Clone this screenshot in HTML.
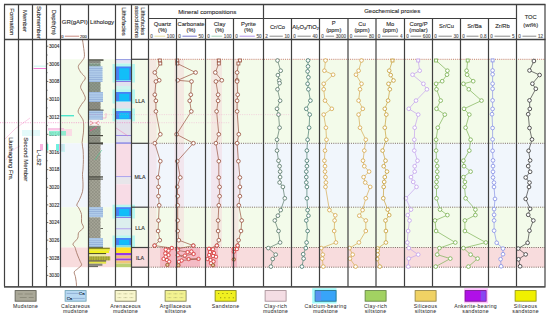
<!DOCTYPE html>
<html><head><meta charset="utf-8"><title>Geological log</title>
<style>html,body{margin:0;padding:0;background:#fff;width:550px;height:317px;overflow:hidden}svg{display:block}text{font-family:"Liberation Sans",sans-serif;stroke:currentColor;stroke-width:0.12px}</style>
</head><body>
<svg width="550" height="317" viewBox="0 0 550 317" font-family='"Liberation Sans", sans-serif'><defs>
<pattern id="pmud" width="3.2" height="3.2" patternUnits="userSpaceOnUse">
<path d="M0 0 L3.2 3.2 M3.2 0 L0 3.2" stroke="#76786c" stroke-width="0.38"/>
</pattern>
<pattern id="pcal" width="4" height="2.2" patternUnits="userSpaceOnUse">
<rect width="4" height="0.6" fill="#8eaad6"/>
</pattern>
<pattern id="psand" width="2.5" height="2" patternUnits="userSpaceOnUse">
<circle cx="1" cy="1" r="0.5" fill="#5a5a20"/>
</pattern>
</defs><rect width="550" height="317" fill="#fff"/><rect x="60.5" y="59.3" width="55.0" height="84.00000000000001" fill="#f3fbea" />
<rect x="60.5" y="143.3" width="55.0" height="63.89999999999998" fill="#f1f6fc" />
<rect x="60.5" y="207.2" width="55.0" height="40.30000000000001" fill="#f3fbea" />
<rect x="60.5" y="247.5" width="55.0" height="19.69999999999999" fill="#f8dcdd" />
<rect x="131.5" y="59.3" width="413.5" height="84.00000000000001" fill="#f3fbea" />
<rect x="131.5" y="143.3" width="413.5" height="63.89999999999998" fill="#f1f6fc" />
<rect x="131.5" y="207.2" width="413.5" height="40.30000000000001" fill="#f3fbea" />
<rect x="131.5" y="247.5" width="413.5" height="19.69999999999999" fill="#f8dcdd" />
<rect x="149.2" y="59.3" width="7.300000000000011" height="188.2" fill="#f6c4d0" opacity="0.33"/>
<rect x="174.5" y="59.3" width="9.5" height="188.2" fill="#f6c4d0" opacity="0.33"/>
<rect x="211" y="59.3" width="11" height="188.2" fill="#f6c4d0" opacity="0.33"/>
<rect x="231.5" y="59.3" width="7.0" height="188.2" fill="#f6c4d0" opacity="0.33"/>
<rect x="160" y="247.5" width="16" height="19.69999999999999" fill="#f0a0b0" opacity="0.55"/>
<rect x="176.5" y="247.5" width="23.5" height="19.69999999999999" fill="#f0a0b0" opacity="0.55"/>
<rect x="206" y="247.5" width="12" height="19.69999999999999" fill="#f0a0b0" opacity="0.55"/>
<rect x="231" y="247.5" width="6" height="19.69999999999999" fill="#f0a0b0" opacity="0.55"/>
<line x1="148.5" y1="59.3" x2="545" y2="59.3" stroke="#c87c70" stroke-width="1" stroke-dasharray="1 1.1"/>
<line x1="148.5" y1="143.3" x2="545" y2="143.3" stroke="#5a4538" stroke-width="0.8" stroke-dasharray="1 1.2"/>
<line x1="148.5" y1="207.2" x2="545" y2="207.2" stroke="#5a4538" stroke-width="0.8" stroke-dasharray="1 1.2"/>
<line x1="148.5" y1="247.5" x2="545" y2="247.5" stroke="#5a4538" stroke-width="0.8" stroke-dasharray="1 1.2"/>
<line x1="148.5" y1="267.2" x2="545" y2="267.2" stroke="#5a4538" stroke-width="0.8" stroke-dasharray="1 1.2"/>
<rect x="88.5" y="59.3" width="15.0" height="1.5" fill="#48483f" />
<rect x="88.5" y="60.8" width="12.0" height="2.700000000000003" fill="#8e928a" />
<rect x="88.5" y="60.8" width="12.0" height="2.700000000000003" fill="url(#pmud)" />
<rect x="88.5" y="63.5" width="12.0" height="3.0" fill="#84a492" />
<rect x="88.5" y="63.5" width="12.0" height="3.0" fill="url(#pmud)" />
<rect x="88.5" y="66.5" width="14.0" height="15.5" fill="#afcbe9" />
<rect x="88.5" y="66.5" width="14.0" height="15.5" fill="url(#pcal)" />
<rect x="88.5" y="82" width="12.0" height="10" fill="#8d9a8c" />
<rect x="88.5" y="82" width="12.0" height="10" fill="url(#pmud)" />
<rect x="88.5" y="92" width="14.5" height="10" fill="#afcbe9" />
<rect x="88.5" y="92" width="14.5" height="10" fill="url(#pcal)" />
<rect x="88.5" y="102" width="12.0" height="8" fill="#8f9084" />
<rect x="88.5" y="102" width="12.0" height="8" fill="url(#pmud)" />
<rect x="88.5" y="109.6" width="15.0" height="1.2000000000000028" fill="#48483f" />
<rect x="88.5" y="110.8" width="14.5" height="9.0" fill="#afcbe9" />
<rect x="88.5" y="110.8" width="14.5" height="9.0" fill="url(#pcal)" />
<rect x="88.5" y="119.8" width="11.5" height="6" fill="#fbf3f3" />
<path d="M90 121 L93.5 123 L90 125 M99 121 L95.5 123 L99 125" stroke="#d06060" stroke-width="0.6" fill="none"/>
<rect x="88.5" y="125.8" width="12.0" height="9.200000000000003" fill="#8c9888" />
<rect x="88.5" y="125.8" width="12.0" height="9.200000000000003" fill="url(#pmud)" />
<rect x="88.5" y="135" width="14.5" height="1.1999999999999886" fill="#48483f" />
<rect x="88.5" y="136.2" width="12.0" height="6.100000000000023" fill="#929488" />
<rect x="88.5" y="136.2" width="12.0" height="6.100000000000023" fill="url(#pmud)" />
<rect x="88.5" y="142.3" width="14.5" height="2.1999999999999886" fill="#48483f" />
<rect x="88.5" y="144.5" width="12.0" height="62.69999999999999" fill="#a6a698" />
<rect x="88.5" y="144.5" width="12.0" height="62.69999999999999" fill="url(#pmud)" />
<rect x="88.5" y="176.3" width="14.5" height="1.299999999999983" fill="#48483f" />
<rect x="88.5" y="178.6" width="14.5" height="1.0" fill="#48483f" />
<rect x="88.5" y="207.2" width="14.5" height="10.200000000000017" fill="#afcbe9" />
<rect x="88.5" y="207.2" width="14.5" height="10.200000000000017" fill="url(#pcal)" />
<rect x="88.5" y="217.4" width="12.0" height="20.599999999999994" fill="#a6a698" />
<rect x="88.5" y="217.4" width="12.0" height="20.599999999999994" fill="url(#pmud)" />
<rect x="100.5" y="228.2" width="2.5" height="0.8" fill="#48483f" />
<rect x="88.5" y="238" width="14.5" height="9.300000000000011" fill="#afcbe9" />
<rect x="88.5" y="238" width="14.5" height="9.300000000000011" fill="url(#pcal)" />
<rect x="88.5" y="246.9" width="14.5" height="0.9" fill="#3a4a3a" />
<rect x="88.5" y="247.7" width="21.3" height="1.3" fill="#8a8a24" />
<rect x="88.5" y="249.0" width="21.3" height="1.7" fill="#e6e634" />
<rect x="88.5" y="250.6" width="20.6" height="2.4" fill="#f2f21e" />
<rect x="88.5" y="253.0" width="17.6" height="1.3" fill="#55552a" />
<rect x="88.5" y="254.3" width="17.6" height="2.0" fill="#eeeea2" />
<rect x="88.5" y="256.3" width="21.7" height="4.1" fill="#b4b440" />
<rect x="88.5" y="256.3" width="21.7" height="4.1" fill="url(#psand)" />
<rect x="88.5" y="260.4" width="17.6" height="1.3" fill="#45452a" />
<rect x="88.5" y="261.7" width="17.6" height="2.0" fill="#e6e646" />
<rect x="88.5" y="263.7" width="13.9" height="2.1" fill="#86867a" />
<rect x="88.5" y="265.8" width="9.5" height="1.3" fill="#6a6a60" />
<rect x="115.5" y="59.3" width="16.0" height="1.0" fill="#6f78d8" />
<rect x="115.5" y="60.3" width="16.0" height="2.700000000000003" fill="#e6e4f4" />
<rect x="115.5" y="63" width="16.0" height="3.5" fill="#d4f4f0" />
<rect x="112.5" y="64.0" width="22.5" height="18.5" fill="#b6f8f0" />
<rect x="115.5" y="66.5" width="16.0" height="14.5" fill="#4a82f4" />
<rect x="119.1" y="68.3" width="10.2" height="11.5" fill="#12bef8" />
<rect x="115.5" y="80.2" width="16.0" height="1.3999999999999915" fill="#86f2f4" />
<rect x="115.5" y="81" width="16.0" height="1.0999999999999943" fill="#8878e0" />
<rect x="115.5" y="82.1" width="16.0" height="3.9000000000000057" fill="#e2e2ee" />
<rect x="115.5" y="86" width="16.0" height="6" fill="#cef4ee" />
<rect x="112.5" y="89.5" width="22.5" height="14" fill="#b6f8f0" />
<rect x="115.5" y="92" width="16.0" height="10" fill="#4a82f4" />
<rect x="119.1" y="93.8" width="10.2" height="7.0" fill="#12bef8" />
<rect x="115.5" y="101.2" width="16.0" height="1.3999999999999915" fill="#86f2f4" />
<rect x="115.5" y="102" width="16.0" height="8" fill="#e2e2ec" />
<rect x="115.5" y="110" width="16.0" height="1.0999999999999943" fill="#8c78e0" />
<rect x="112.5" y="108.5" width="22.5" height="12.799999999999997" fill="#b6f8f0" />
<rect x="115.5" y="111" width="16.0" height="8.799999999999997" fill="#4a82f4" />
<rect x="119.1" y="112.8" width="10.2" height="5.799999999999997" fill="#12bef8" />
<rect x="115.5" y="119.0" width="16.0" height="1.3999999999999915" fill="#86f2f4" />
<rect x="115.5" y="119.8" width="16.0" height="15.200000000000003" fill="#e2e2ec" />
<rect x="115.5" y="135" width="16.0" height="1.0999999999999943" fill="#9a8ae6" />
<rect x="115.5" y="136.1" width="16.0" height="6.200000000000017" fill="#e2e2ec" />
<rect x="115.5" y="142.3" width="16.0" height="1.5999999999999943" fill="#8a86e2" />
<rect x="115.5" y="143.9" width="16.0" height="32.400000000000006" fill="#f8dce6" />
<rect x="115.5" y="176.3" width="16.0" height="1.0" fill="#8f86e8" />
<rect x="115.5" y="177.3" width="16.0" height="6.899999999999977" fill="#e8e6ea" />
<rect x="115.5" y="184.2" width="16.0" height="23.0" fill="#f8dce6" />
<rect x="112.5" y="204.7" width="22.5" height="13.800000000000011" fill="#b6f8f0" />
<rect x="115.5" y="207.2" width="16.0" height="9.800000000000011" fill="#4a82f4" />
<rect x="119.1" y="209.0" width="10.2" height="6.800000000000011" fill="#12bef8" />
<rect x="115.5" y="216.2" width="16.0" height="1.4000000000000057" fill="#86f2f4" />
<rect x="115.5" y="217" width="16.0" height="1.0999999999999943" fill="#8c80e2" />
<rect x="115.5" y="218.1" width="16.0" height="10.300000000000011" fill="#dceeee" />
<rect x="115.5" y="228.4" width="16.0" height="1.0999999999999943" fill="#9a8ce6" />
<rect x="115.5" y="229.5" width="16.0" height="8.5" fill="#dceeee" />
<rect x="112.5" y="235.5" width="22.5" height="12" fill="#b6f8f0" />
<rect x="115.5" y="238" width="16.0" height="8" fill="#4a82f4" />
<rect x="119.1" y="239.8" width="10.2" height="5.0" fill="#12bef8" />
<rect x="115.5" y="245.2" width="16.0" height="1.4000000000000057" fill="#86f2f4" />
<rect x="115.5" y="246" width="16.0" height="1.5" fill="#7ce0ea" />
<rect x="115.5" y="247.5" width="16.0" height="5.5" fill="#ffe228" />
<rect x="115.5" y="253" width="16.0" height="2.5" fill="#9838e2" />
<rect x="115.5" y="255.5" width="16.0" height="3.0" fill="#f2b878" />
<rect x="115.5" y="258.5" width="16.0" height="2.1000000000000227" fill="#9838e2" />
<rect x="115.5" y="260.6" width="16.0" height="3.0" fill="#f0c878" />
<rect x="115.5" y="263.6" width="16.0" height="3.599999999999966" fill="#bad074" />
<line x1="131.5" y1="59.3" x2="148.5" y2="59.3" stroke="#404040" stroke-width="1.2" />
<line x1="131.5" y1="143.3" x2="148.5" y2="143.3" stroke="#404040" stroke-width="1.2" />
<line x1="131.5" y1="207.2" x2="148.5" y2="207.2" stroke="#404040" stroke-width="1.2" />
<line x1="131.5" y1="247.5" x2="148.5" y2="247.5" stroke="#404040" stroke-width="1.2" />
<line x1="131.5" y1="267.2" x2="148.5" y2="267.2" stroke="#404040" stroke-width="1.2" />
<text x="140" y="103.3" font-size="5.3" text-anchor="middle" fill="#2e2e2e" color="#2e2e2e" >LLA</text>
<text x="140" y="178.8" font-size="5.3" text-anchor="middle" fill="#2e2e2e" color="#2e2e2e" >MLA</text>
<text x="140" y="229.9" font-size="5.3" text-anchor="middle" fill="#2e2e2e" color="#2e2e2e" >LLA</text>
<text x="140" y="259.8" font-size="5.3" text-anchor="middle" fill="#2e2e2e" color="#2e2e2e" >ILA</text>
<path d="M82.50 40.00 C82.65 41.00 83.08 43.25 83.40 46.00 C83.72 48.75 84.72 53.88 84.40 56.50 C84.08 59.12 82.52 60.05 81.50 61.70 C80.48 63.35 78.45 64.67 78.30 66.40 C78.15 68.13 79.43 70.20 80.60 72.10 C81.77 74.00 84.98 76.07 85.30 77.80 C85.62 79.53 83.28 80.92 82.50 82.50 C81.72 84.08 80.45 85.55 80.60 87.30 C80.75 89.05 82.62 91.08 83.40 93.00 C84.18 94.92 85.62 96.88 85.30 98.80 C84.98 100.72 82.70 102.45 81.50 104.50 C80.30 106.55 78.25 109.20 78.10 111.10 C77.95 113.00 79.72 114.17 80.60 115.90 C81.48 117.63 82.93 118.67 83.40 121.50 C83.87 124.33 83.62 129.42 83.40 132.90 C83.18 136.38 82.15 139.55 82.10 142.40 C82.05 145.25 82.88 147.15 83.10 150.00 C83.32 152.85 83.42 156.33 83.40 159.50 C83.38 162.67 83.15 166.48 83.00 169.00 C82.85 171.52 82.50 172.08 82.50 174.60 C82.50 177.12 83.00 181.25 83.00 184.10 C83.00 186.95 83.07 189.17 82.50 191.70 C81.93 194.23 80.55 197.08 79.60 199.30 C78.65 201.52 76.95 203.58 76.80 205.00 C76.65 206.42 77.92 206.22 78.70 207.80 C79.48 209.38 81.03 212.12 81.50 214.50 C81.97 216.88 81.18 219.90 81.50 222.10 C81.82 224.30 83.87 225.97 83.40 227.70 C82.93 229.43 79.65 230.75 78.70 232.50 C77.75 234.25 78.65 236.30 77.70 238.20 C76.75 240.10 73.47 242.43 73.00 243.90 C72.53 245.37 74.43 245.98 74.90 247.00 C75.37 248.02 75.37 248.67 75.80 250.00 C76.23 251.33 76.77 253.10 77.50 255.00 C78.23 256.90 79.53 259.72 80.20 261.40 C80.87 263.08 81.95 263.85 81.50 265.10 C81.05 266.35 78.72 267.75 77.50 268.90 C76.28 270.05 74.55 270.73 74.20 272.00 C73.85 273.27 75.07 274.92 75.40 276.50 C75.73 278.08 76.02 279.92 76.20 281.50 C76.38 283.08 76.45 285.25 76.50 286.00" stroke="#a27462" stroke-width="0.85" fill="none"/>
<line x1="46.5" y1="46.2" x2="48.3" y2="46.2" stroke="#333" stroke-width="0.7" />
<text x="49" y="48.050000000000004" font-size="4.7" text-anchor="start" fill="#333" color="#333" >3004</text>
<line x1="46.5" y1="55.015" x2="47.6" y2="55.015" stroke="#333" stroke-width="0.7" />
<line x1="46.5" y1="63.83" x2="48.3" y2="63.83" stroke="#333" stroke-width="0.7" />
<text x="49" y="65.67999999999999" font-size="4.7" text-anchor="start" fill="#333" color="#333" >3006</text>
<line x1="46.5" y1="72.64500000000001" x2="47.6" y2="72.64500000000001" stroke="#333" stroke-width="0.7" />
<line x1="46.5" y1="81.46000000000001" x2="48.3" y2="81.46000000000001" stroke="#333" stroke-width="0.7" />
<text x="49" y="83.31" font-size="4.7" text-anchor="start" fill="#333" color="#333" >3008</text>
<line x1="46.5" y1="90.275" x2="47.6" y2="90.275" stroke="#333" stroke-width="0.7" />
<line x1="46.5" y1="99.09" x2="48.3" y2="99.09" stroke="#333" stroke-width="0.7" />
<text x="49" y="100.94" font-size="4.7" text-anchor="start" fill="#333" color="#333" >3010</text>
<line x1="46.5" y1="107.905" x2="47.6" y2="107.905" stroke="#333" stroke-width="0.7" />
<line x1="46.5" y1="116.72" x2="48.3" y2="116.72" stroke="#333" stroke-width="0.7" />
<text x="49" y="118.57" font-size="4.7" text-anchor="start" fill="#333" color="#333" >3012</text>
<line x1="46.5" y1="125.535" x2="47.6" y2="125.535" stroke="#333" stroke-width="0.7" />
<line x1="46.5" y1="134.35" x2="48.3" y2="134.35" stroke="#333" stroke-width="0.7" />
<text x="49" y="136.2" font-size="4.7" text-anchor="start" fill="#333" color="#333" >3014</text>
<line x1="46.5" y1="143.165" x2="47.6" y2="143.165" stroke="#333" stroke-width="0.7" />
<line x1="46.5" y1="151.98000000000002" x2="48.3" y2="151.98000000000002" stroke="#333" stroke-width="0.7" />
<text x="49" y="153.83" font-size="4.7" text-anchor="start" fill="#333" color="#333" >3016</text>
<line x1="46.5" y1="160.79500000000002" x2="47.6" y2="160.79500000000002" stroke="#333" stroke-width="0.7" />
<line x1="46.5" y1="169.61" x2="48.3" y2="169.61" stroke="#333" stroke-width="0.7" />
<text x="49" y="171.46" font-size="4.7" text-anchor="start" fill="#333" color="#333" >3018</text>
<line x1="46.5" y1="178.425" x2="47.6" y2="178.425" stroke="#333" stroke-width="0.7" />
<line x1="46.5" y1="187.24" x2="48.3" y2="187.24" stroke="#333" stroke-width="0.7" />
<text x="49" y="189.09" font-size="4.7" text-anchor="start" fill="#333" color="#333" >3020</text>
<line x1="46.5" y1="196.055" x2="47.6" y2="196.055" stroke="#333" stroke-width="0.7" />
<line x1="46.5" y1="204.87" x2="48.3" y2="204.87" stroke="#333" stroke-width="0.7" />
<text x="49" y="206.72" font-size="4.7" text-anchor="start" fill="#333" color="#333" >3022</text>
<line x1="46.5" y1="213.685" x2="47.6" y2="213.685" stroke="#333" stroke-width="0.7" />
<line x1="46.5" y1="222.5" x2="48.3" y2="222.5" stroke="#333" stroke-width="0.7" />
<text x="49" y="224.35" font-size="4.7" text-anchor="start" fill="#333" color="#333" >3024</text>
<line x1="46.5" y1="231.315" x2="47.6" y2="231.315" stroke="#333" stroke-width="0.7" />
<line x1="46.5" y1="240.13" x2="48.3" y2="240.13" stroke="#333" stroke-width="0.7" />
<text x="49" y="241.98" font-size="4.7" text-anchor="start" fill="#333" color="#333" >3026</text>
<line x1="46.5" y1="248.945" x2="47.6" y2="248.945" stroke="#333" stroke-width="0.7" />
<line x1="46.5" y1="257.76" x2="48.3" y2="257.76" stroke="#333" stroke-width="0.7" />
<text x="49" y="259.61" font-size="4.7" text-anchor="start" fill="#333" color="#333" >3028</text>
<line x1="46.5" y1="266.575" x2="47.6" y2="266.575" stroke="#333" stroke-width="0.7" />
<line x1="46.5" y1="275.39" x2="48.3" y2="275.39" stroke="#333" stroke-width="0.7" />
<text x="49" y="277.24" font-size="4.7" text-anchor="start" fill="#333" color="#333" >3030</text>
<path d="M159.8 60.5 L160.3 63.5 L154.8 72.5 L159.2 80.3 L155.9 81.5 L154.8 94.7 L155.9 100.8 L155.9 111.4 L160.3 134.3 L154.8 143.2 L160.3 161.2 L158.1 177.5 L158.5 186.9 L158.5 196.2 L159.2 205.3 L158.5 220.5 L158.1 231.0 L159.8 240.2 L154.6 245.6" stroke="#9a5440" stroke-width="0.7" fill="none"/>
<rect x="158.32" y="59.02" width="2.96" height="2.96" fill="#fff" stroke="#9a5440" stroke-width="0.85"/>
<rect x="158.82" y="62.02" width="2.96" height="2.96" fill="#fff" stroke="#9a5440" stroke-width="0.85"/>
<circle cx="154.80" cy="72.50" r="1.85" fill="#fff" stroke="#9a5440" stroke-width="0.85"/>
<circle cx="159.20" cy="80.30" r="1.85" fill="#fff" stroke="#9a5440" stroke-width="0.85"/>
<circle cx="155.90" cy="81.50" r="1.85" fill="#fff" stroke="#9a5440" stroke-width="0.85"/>
<circle cx="154.80" cy="94.70" r="1.85" fill="#fff" stroke="#9a5440" stroke-width="0.85"/>
<circle cx="155.90" cy="100.80" r="1.85" fill="#fff" stroke="#9a5440" stroke-width="0.85"/>
<circle cx="155.90" cy="111.40" r="1.85" fill="#fff" stroke="#9a5440" stroke-width="0.85"/>
<circle cx="160.30" cy="134.30" r="1.85" fill="#fff" stroke="#9a5440" stroke-width="0.85"/>
<circle cx="154.80" cy="143.20" r="1.85" fill="#fff" stroke="#9a5440" stroke-width="0.85"/>
<circle cx="160.30" cy="161.20" r="1.85" fill="#fff" stroke="#9a5440" stroke-width="0.85"/>
<circle cx="158.10" cy="177.50" r="1.85" fill="#fff" stroke="#9a5440" stroke-width="0.85"/>
<circle cx="158.50" cy="186.90" r="1.85" fill="#fff" stroke="#9a5440" stroke-width="0.85"/>
<circle cx="158.50" cy="196.20" r="1.85" fill="#fff" stroke="#9a5440" stroke-width="0.85"/>
<circle cx="159.20" cy="205.30" r="1.85" fill="#fff" stroke="#9a5440" stroke-width="0.85"/>
<circle cx="158.50" cy="220.50" r="1.85" fill="#fff" stroke="#9a5440" stroke-width="0.85"/>
<circle cx="158.10" cy="231.00" r="1.85" fill="#fff" stroke="#9a5440" stroke-width="0.85"/>
<circle cx="159.80" cy="240.20" r="1.85" fill="#fff" stroke="#9a5440" stroke-width="0.85"/>
<circle cx="154.60" cy="245.60" r="1.85" fill="#fff" stroke="#9a5440" stroke-width="0.85"/>
<path d="M154.6 245.6 L171.8 248.0 L165.8 249.6 L168.5 250.7 L165.3 253.4 L168.5 255.1 L165.8 256.7 L163.6 258.9 L166.9 260.0 L169.1 261.6 L167.4 264.9" stroke="#9a5440" stroke-width="0.65" fill="none"/>
<circle cx="171.80" cy="248.00" r="2.2" fill="#e05a5a" opacity="0.55"/>
<circle cx="165.80" cy="249.60" r="2.2" fill="#e05a5a" opacity="0.55"/>
<circle cx="168.50" cy="250.70" r="2.2" fill="#e05a5a" opacity="0.55"/>
<circle cx="165.30" cy="253.40" r="2.2" fill="#e05a5a" opacity="0.55"/>
<circle cx="168.50" cy="255.10" r="2.2" fill="#e05a5a" opacity="0.55"/>
<circle cx="165.80" cy="256.70" r="2.2" fill="#e05a5a" opacity="0.55"/>
<circle cx="163.60" cy="258.90" r="2.2" fill="#e05a5a" opacity="0.55"/>
<circle cx="166.90" cy="260.00" r="2.2" fill="#e05a5a" opacity="0.55"/>
<circle cx="169.10" cy="261.60" r="2.2" fill="#e05a5a" opacity="0.55"/>
<circle cx="167.40" cy="264.90" r="2.2" fill="#e05a5a" opacity="0.55"/>
<circle cx="154.60" cy="245.60" r="1.6" fill="#fff" stroke="#d83838" stroke-width="0.75"/>
<circle cx="171.80" cy="248.00" r="1.6" fill="#fff" stroke="#d83838" stroke-width="0.75"/>
<circle cx="165.80" cy="249.60" r="1.6" fill="#fff" stroke="#d83838" stroke-width="0.75"/>
<circle cx="168.50" cy="250.70" r="1.6" fill="#fff" stroke="#d83838" stroke-width="0.75"/>
<circle cx="165.30" cy="253.40" r="1.6" fill="#fff" stroke="#d83838" stroke-width="0.75"/>
<circle cx="168.50" cy="255.10" r="1.6" fill="#fff" stroke="#d83838" stroke-width="0.75"/>
<circle cx="165.80" cy="256.70" r="1.6" fill="#fff" stroke="#d83838" stroke-width="0.75"/>
<circle cx="163.60" cy="258.90" r="1.6" fill="#fff" stroke="#d83838" stroke-width="0.75"/>
<circle cx="166.90" cy="260.00" r="1.6" fill="#fff" stroke="#d83838" stroke-width="0.75"/>
<circle cx="169.10" cy="261.60" r="1.6" fill="#fff" stroke="#d83838" stroke-width="0.75"/>
<circle cx="167.40" cy="264.90" r="1.6" fill="#e9c9a0" stroke="#8a5a2a" stroke-width="0.75"/>
<path d="M177.3 60.5 L177.3 63.5 L195.6 72.5 L177.7 80.3 L191.5 81.5 L190.8 94.7 L189.7 100.8 L191.3 111.4 L176.6 134.3 L193.4 143.2 L177.3 161.2 L180.3 177.5 L177.3 186.9 L177.7 196.2 L177.7 205.3 L177.7 220.5 L177.7 231.0 L178.8 240.2 L193.3 245.6" stroke="#9a5440" stroke-width="0.7" fill="none"/>
<rect x="175.82" y="59.02" width="2.96" height="2.96" fill="#fff" stroke="#9a5440" stroke-width="0.85"/>
<rect x="175.82" y="62.02" width="2.96" height="2.96" fill="#fff" stroke="#9a5440" stroke-width="0.85"/>
<circle cx="195.60" cy="72.50" r="1.85" fill="#fff" stroke="#9a5440" stroke-width="0.85"/>
<circle cx="177.70" cy="80.30" r="1.85" fill="#fff" stroke="#9a5440" stroke-width="0.85"/>
<circle cx="191.50" cy="81.50" r="1.85" fill="#fff" stroke="#9a5440" stroke-width="0.85"/>
<circle cx="190.80" cy="94.70" r="1.85" fill="#fff" stroke="#9a5440" stroke-width="0.85"/>
<circle cx="189.70" cy="100.80" r="1.85" fill="#fff" stroke="#9a5440" stroke-width="0.85"/>
<circle cx="191.30" cy="111.40" r="1.85" fill="#fff" stroke="#9a5440" stroke-width="0.85"/>
<circle cx="176.60" cy="134.30" r="1.85" fill="#fff" stroke="#9a5440" stroke-width="0.85"/>
<circle cx="193.40" cy="143.20" r="1.85" fill="#fff" stroke="#9a5440" stroke-width="0.85"/>
<circle cx="177.30" cy="161.20" r="1.85" fill="#fff" stroke="#9a5440" stroke-width="0.85"/>
<circle cx="180.30" cy="177.50" r="1.85" fill="#fff" stroke="#9a5440" stroke-width="0.85"/>
<circle cx="177.30" cy="186.90" r="1.85" fill="#fff" stroke="#9a5440" stroke-width="0.85"/>
<circle cx="177.70" cy="196.20" r="1.85" fill="#fff" stroke="#9a5440" stroke-width="0.85"/>
<circle cx="177.70" cy="205.30" r="1.85" fill="#fff" stroke="#9a5440" stroke-width="0.85"/>
<circle cx="177.70" cy="220.50" r="1.85" fill="#fff" stroke="#9a5440" stroke-width="0.85"/>
<circle cx="177.70" cy="231.00" r="1.85" fill="#fff" stroke="#9a5440" stroke-width="0.85"/>
<circle cx="178.80" cy="240.20" r="1.85" fill="#fff" stroke="#9a5440" stroke-width="0.85"/>
<circle cx="193.30" cy="245.60" r="1.85" fill="#fff" stroke="#9a5440" stroke-width="0.85"/>
<path d="M193.3 245.6 L177.3 248.9 L177.8 250.4 L187.6 252.1 L191.4 251.5 L193.6 254.0 L184.9 255.6 L177.8 255.2 L188.7 259.1 L198.5 258.9 L181.6 260.5 L178.9 261.8 L178.4 265.2" stroke="#9a5440" stroke-width="0.65" fill="none"/>
<circle cx="177.30" cy="248.90" r="2.2" fill="#e05a5a" opacity="0.55"/>
<circle cx="177.80" cy="250.40" r="2.2" fill="#e05a5a" opacity="0.55"/>
<circle cx="187.60" cy="252.10" r="2.2" fill="#e05a5a" opacity="0.55"/>
<circle cx="191.40" cy="251.50" r="2.2" fill="#e05a5a" opacity="0.55"/>
<circle cx="193.60" cy="254.00" r="2.2" fill="#e05a5a" opacity="0.55"/>
<circle cx="184.90" cy="255.60" r="2.2" fill="#e05a5a" opacity="0.55"/>
<circle cx="177.80" cy="255.20" r="2.2" fill="#e05a5a" opacity="0.55"/>
<circle cx="188.70" cy="259.10" r="2.2" fill="#e05a5a" opacity="0.55"/>
<circle cx="198.50" cy="258.90" r="2.2" fill="#e05a5a" opacity="0.55"/>
<circle cx="181.60" cy="260.50" r="2.2" fill="#e05a5a" opacity="0.55"/>
<circle cx="178.90" cy="261.80" r="2.2" fill="#e05a5a" opacity="0.55"/>
<circle cx="178.40" cy="265.20" r="2.2" fill="#e05a5a" opacity="0.55"/>
<circle cx="193.30" cy="245.60" r="1.6" fill="#fff" stroke="#d83838" stroke-width="0.75"/>
<circle cx="177.30" cy="248.90" r="1.6" fill="#fff" stroke="#d83838" stroke-width="0.75"/>
<circle cx="177.80" cy="250.40" r="1.6" fill="#fff" stroke="#d83838" stroke-width="0.75"/>
<circle cx="187.60" cy="252.10" r="1.6" fill="#fff" stroke="#d83838" stroke-width="0.75"/>
<circle cx="191.40" cy="251.50" r="1.6" fill="#fff" stroke="#d83838" stroke-width="0.75"/>
<circle cx="193.60" cy="254.00" r="1.6" fill="#fff" stroke="#d83838" stroke-width="0.75"/>
<circle cx="184.90" cy="255.60" r="1.6" fill="#fff" stroke="#d83838" stroke-width="0.75"/>
<circle cx="177.80" cy="255.20" r="1.6" fill="#fff" stroke="#d83838" stroke-width="0.75"/>
<circle cx="188.70" cy="259.10" r="1.6" fill="#fff" stroke="#d83838" stroke-width="0.75"/>
<circle cx="198.50" cy="258.90" r="1.6" fill="#fff" stroke="#d83838" stroke-width="0.75"/>
<circle cx="181.60" cy="260.50" r="1.6" fill="#fff" stroke="#d83838" stroke-width="0.75"/>
<circle cx="178.90" cy="261.80" r="1.6" fill="#fff" stroke="#d83838" stroke-width="0.75"/>
<circle cx="178.40" cy="265.20" r="1.6" fill="#e9c9a0" stroke="#8a5a2a" stroke-width="0.75"/>
<path d="M218.8 60.5 L218.8 63.5 L215.3 72.5 L221.8 80.3 L215.9 81.5 L218.1 94.7 L218.1 100.8 L216.6 111.4 L218.8 134.3 L215.9 143.2 L218.8 161.2 L218.8 177.5 L219.6 186.9 L219.6 196.2 L218.8 205.3 L218.1 220.5 L218.1 231.0 L218.8 240.2 L216.9 245.6" stroke="#9a5440" stroke-width="0.7" fill="none"/>
<rect x="217.32" y="59.02" width="2.96" height="2.96" fill="#fff" stroke="#9a5440" stroke-width="0.85"/>
<rect x="217.32" y="62.02" width="2.96" height="2.96" fill="#fff" stroke="#9a5440" stroke-width="0.85"/>
<circle cx="215.30" cy="72.50" r="1.85" fill="#fff" stroke="#9a5440" stroke-width="0.85"/>
<circle cx="221.80" cy="80.30" r="1.85" fill="#fff" stroke="#9a5440" stroke-width="0.85"/>
<circle cx="215.90" cy="81.50" r="1.85" fill="#fff" stroke="#9a5440" stroke-width="0.85"/>
<circle cx="218.10" cy="94.70" r="1.85" fill="#fff" stroke="#9a5440" stroke-width="0.85"/>
<circle cx="218.10" cy="100.80" r="1.85" fill="#fff" stroke="#9a5440" stroke-width="0.85"/>
<circle cx="216.60" cy="111.40" r="1.85" fill="#fff" stroke="#9a5440" stroke-width="0.85"/>
<circle cx="218.80" cy="134.30" r="1.85" fill="#fff" stroke="#9a5440" stroke-width="0.85"/>
<circle cx="215.90" cy="143.20" r="1.85" fill="#fff" stroke="#9a5440" stroke-width="0.85"/>
<circle cx="218.80" cy="161.20" r="1.85" fill="#fff" stroke="#9a5440" stroke-width="0.85"/>
<circle cx="218.80" cy="177.50" r="1.85" fill="#fff" stroke="#9a5440" stroke-width="0.85"/>
<circle cx="219.60" cy="186.90" r="1.85" fill="#fff" stroke="#9a5440" stroke-width="0.85"/>
<circle cx="219.60" cy="196.20" r="1.85" fill="#fff" stroke="#9a5440" stroke-width="0.85"/>
<circle cx="218.80" cy="205.30" r="1.85" fill="#fff" stroke="#9a5440" stroke-width="0.85"/>
<circle cx="218.10" cy="220.50" r="1.85" fill="#fff" stroke="#9a5440" stroke-width="0.85"/>
<circle cx="218.10" cy="231.00" r="1.85" fill="#fff" stroke="#9a5440" stroke-width="0.85"/>
<circle cx="218.80" cy="240.20" r="1.85" fill="#fff" stroke="#9a5440" stroke-width="0.85"/>
<circle cx="216.90" cy="245.60" r="1.85" fill="#fff" stroke="#9a5440" stroke-width="0.85"/>
<path d="M216.9 245.6 L209.0 248.8 L213.0 249.2 L210.0 252.0 L214.0 253.0 L209.2 255.0 L213.0 256.0 L216.0 256.8 L207.5 259.0 L210.5 260.0 L213.5 261.5 L211.0 263.2 L213.0 265.2" stroke="#9a5440" stroke-width="0.65" fill="none"/>
<circle cx="209.00" cy="248.80" r="2.2" fill="#e05a5a" opacity="0.55"/>
<circle cx="213.00" cy="249.20" r="2.2" fill="#e05a5a" opacity="0.55"/>
<circle cx="210.00" cy="252.00" r="2.2" fill="#e05a5a" opacity="0.55"/>
<circle cx="214.00" cy="253.00" r="2.2" fill="#e05a5a" opacity="0.55"/>
<circle cx="209.20" cy="255.00" r="2.2" fill="#e05a5a" opacity="0.55"/>
<circle cx="213.00" cy="256.00" r="2.2" fill="#e05a5a" opacity="0.55"/>
<circle cx="216.00" cy="256.80" r="2.2" fill="#e05a5a" opacity="0.55"/>
<circle cx="207.50" cy="259.00" r="2.2" fill="#e05a5a" opacity="0.55"/>
<circle cx="210.50" cy="260.00" r="2.2" fill="#e05a5a" opacity="0.55"/>
<circle cx="213.50" cy="261.50" r="2.2" fill="#e05a5a" opacity="0.55"/>
<circle cx="211.00" cy="263.20" r="2.2" fill="#e05a5a" opacity="0.55"/>
<circle cx="213.00" cy="265.20" r="2.2" fill="#e05a5a" opacity="0.55"/>
<circle cx="216.90" cy="245.60" r="1.6" fill="#fff" stroke="#d83838" stroke-width="0.75"/>
<circle cx="209.00" cy="248.80" r="1.6" fill="#fff" stroke="#d83838" stroke-width="0.75"/>
<circle cx="213.00" cy="249.20" r="1.6" fill="#fff" stroke="#d83838" stroke-width="0.75"/>
<circle cx="210.00" cy="252.00" r="1.6" fill="#fff" stroke="#d83838" stroke-width="0.75"/>
<circle cx="214.00" cy="253.00" r="1.6" fill="#fff" stroke="#d83838" stroke-width="0.75"/>
<circle cx="209.20" cy="255.00" r="1.6" fill="#fff" stroke="#d83838" stroke-width="0.75"/>
<circle cx="213.00" cy="256.00" r="1.6" fill="#fff" stroke="#d83838" stroke-width="0.75"/>
<circle cx="216.00" cy="256.80" r="1.6" fill="#fff" stroke="#d83838" stroke-width="0.75"/>
<circle cx="207.50" cy="259.00" r="1.6" fill="#fff" stroke="#d83838" stroke-width="0.75"/>
<circle cx="210.50" cy="260.00" r="1.6" fill="#fff" stroke="#d83838" stroke-width="0.75"/>
<circle cx="213.50" cy="261.50" r="1.6" fill="#fff" stroke="#d83838" stroke-width="0.75"/>
<circle cx="211.00" cy="263.20" r="1.6" fill="#fff" stroke="#d83838" stroke-width="0.75"/>
<circle cx="213.00" cy="265.20" r="1.6" fill="#e9c9a0" stroke="#8a5a2a" stroke-width="0.75"/>
<path d="M239.9 60.5 L238.4 63.5 L237.1 72.5 L237.1 80.3 L237.1 81.5 L237.7 94.7 L237.1 100.8 L237.1 111.4 L238.8 134.3 L237.1 143.2 L238.4 161.2 L239.9 177.5 L239.9 186.9 L239.9 196.2 L238.8 205.3 L241.7 220.5 L241.0 231.0 L238.6 240.2 L237.6 245.6" stroke="#9a5440" stroke-width="0.7" fill="none"/>
<rect x="238.42" y="59.02" width="2.96" height="2.96" fill="#fff" stroke="#9a5440" stroke-width="0.85"/>
<rect x="236.92" y="62.02" width="2.96" height="2.96" fill="#fff" stroke="#9a5440" stroke-width="0.85"/>
<circle cx="237.10" cy="72.50" r="1.85" fill="#fff" stroke="#9a5440" stroke-width="0.85"/>
<circle cx="237.10" cy="80.30" r="1.85" fill="#fff" stroke="#9a5440" stroke-width="0.85"/>
<circle cx="237.10" cy="81.50" r="1.85" fill="#fff" stroke="#9a5440" stroke-width="0.85"/>
<circle cx="237.70" cy="94.70" r="1.85" fill="#fff" stroke="#9a5440" stroke-width="0.85"/>
<circle cx="237.10" cy="100.80" r="1.85" fill="#fff" stroke="#9a5440" stroke-width="0.85"/>
<circle cx="237.10" cy="111.40" r="1.85" fill="#fff" stroke="#9a5440" stroke-width="0.85"/>
<circle cx="238.80" cy="134.30" r="1.85" fill="#fff" stroke="#9a5440" stroke-width="0.85"/>
<circle cx="237.10" cy="143.20" r="1.85" fill="#fff" stroke="#9a5440" stroke-width="0.85"/>
<circle cx="238.40" cy="161.20" r="1.85" fill="#fff" stroke="#9a5440" stroke-width="0.85"/>
<circle cx="239.90" cy="177.50" r="1.85" fill="#fff" stroke="#9a5440" stroke-width="0.85"/>
<circle cx="239.90" cy="186.90" r="1.85" fill="#fff" stroke="#9a5440" stroke-width="0.85"/>
<circle cx="239.90" cy="196.20" r="1.85" fill="#fff" stroke="#9a5440" stroke-width="0.85"/>
<circle cx="238.80" cy="205.30" r="1.85" fill="#fff" stroke="#9a5440" stroke-width="0.85"/>
<circle cx="241.70" cy="220.50" r="1.85" fill="#fff" stroke="#9a5440" stroke-width="0.85"/>
<circle cx="241.00" cy="231.00" r="1.85" fill="#fff" stroke="#9a5440" stroke-width="0.85"/>
<circle cx="238.60" cy="240.20" r="1.85" fill="#fff" stroke="#9a5440" stroke-width="0.85"/>
<circle cx="237.60" cy="245.60" r="1.85" fill="#fff" stroke="#9a5440" stroke-width="0.85"/>
<path d="M237.6 245.6 L233.8 248.9 L236.9 249.1 L233.8 251.8 L233.8 259.4" stroke="#9a5440" stroke-width="0.65" fill="none"/>
<circle cx="233.80" cy="248.90" r="2.2" fill="#e05a5a" opacity="0.55"/>
<circle cx="236.90" cy="249.10" r="2.2" fill="#e05a5a" opacity="0.55"/>
<circle cx="233.80" cy="251.80" r="2.2" fill="#e05a5a" opacity="0.55"/>
<circle cx="233.80" cy="259.40" r="2.2" fill="#e05a5a" opacity="0.55"/>
<circle cx="237.60" cy="245.60" r="1.6" fill="#fff" stroke="#d83838" stroke-width="0.75"/>
<circle cx="233.80" cy="248.90" r="1.6" fill="#fff" stroke="#d83838" stroke-width="0.75"/>
<circle cx="236.90" cy="249.10" r="1.6" fill="#fff" stroke="#d83838" stroke-width="0.75"/>
<circle cx="233.80" cy="251.80" r="1.6" fill="#fff" stroke="#d83838" stroke-width="0.75"/>
<circle cx="233.80" cy="259.40" r="1.6" fill="#e9c9a0" stroke="#8a5a2a" stroke-width="0.75"/>
<path d="M188.7 259.1 L198.5 258.9" stroke="#a8604e" stroke-width="0.55"/>
<path d="M277.5 60.5 L280.7 70.7 L277.9 75.1 L279.2 80.5 L279.6 83.2 L277.5 89.3 L280.1 100.7 L277.0 108.8 L278.5 114.6 L279.6 127.7 L277.0 139.7 L277.0 150.6 L278.5 160.7 L279.6 166.2 L280.1 171.6 L280.1 177.1 L279.6 182.5 L282.9 186.9 L284.8 198.3 L280.7 210.1 L277.9 215.7 L274.8 220.5 L278.5 231.0 L280.1 242.5 L268.3 248.1 L275.7 254.6 L272.7 259.0 L270.9 266.6" stroke="#5a7a6a" stroke-width="0.7" fill="none"/>
<circle cx="277.50" cy="60.50" r="1.85" fill="#fff" stroke="#5a7a6a" stroke-width="0.85"/>
<circle cx="280.70" cy="70.70" r="1.85" fill="#fff" stroke="#5a7a6a" stroke-width="0.85"/>
<circle cx="277.90" cy="75.10" r="1.85" fill="#fff" stroke="#5a7a6a" stroke-width="0.85"/>
<circle cx="279.20" cy="80.50" r="1.85" fill="#fff" stroke="#5a7a6a" stroke-width="0.85"/>
<circle cx="279.60" cy="83.20" r="1.85" fill="#fff" stroke="#5a7a6a" stroke-width="0.85"/>
<circle cx="277.50" cy="89.30" r="1.85" fill="#fff" stroke="#5a7a6a" stroke-width="0.85"/>
<circle cx="280.10" cy="100.70" r="1.85" fill="#fff" stroke="#5a7a6a" stroke-width="0.85"/>
<circle cx="277.00" cy="108.80" r="1.85" fill="#fff" stroke="#5a7a6a" stroke-width="0.85"/>
<circle cx="278.50" cy="114.60" r="1.85" fill="#fff" stroke="#5a7a6a" stroke-width="0.85"/>
<circle cx="279.60" cy="127.70" r="1.85" fill="#fff" stroke="#5a7a6a" stroke-width="0.85"/>
<circle cx="277.00" cy="139.70" r="1.85" fill="#fff" stroke="#5a7a6a" stroke-width="0.85"/>
<circle cx="277.00" cy="150.60" r="1.85" fill="#fff" stroke="#5a7a6a" stroke-width="0.85"/>
<circle cx="278.50" cy="160.70" r="1.85" fill="#fff" stroke="#5a7a6a" stroke-width="0.85"/>
<circle cx="279.60" cy="166.20" r="1.85" fill="#fff" stroke="#5a7a6a" stroke-width="0.85"/>
<circle cx="280.10" cy="171.60" r="1.85" fill="#fff" stroke="#5a7a6a" stroke-width="0.85"/>
<circle cx="280.10" cy="177.10" r="1.85" fill="#fff" stroke="#5a7a6a" stroke-width="0.85"/>
<circle cx="279.60" cy="182.50" r="1.85" fill="#fff" stroke="#5a7a6a" stroke-width="0.85"/>
<circle cx="282.90" cy="186.90" r="1.85" fill="#fff" stroke="#5a7a6a" stroke-width="0.85"/>
<circle cx="284.80" cy="198.30" r="1.85" fill="#fff" stroke="#5a7a6a" stroke-width="0.85"/>
<circle cx="280.70" cy="210.10" r="1.85" fill="#fff" stroke="#5a7a6a" stroke-width="0.85"/>
<circle cx="277.90" cy="215.70" r="1.85" fill="#fff" stroke="#5a7a6a" stroke-width="0.85"/>
<circle cx="274.80" cy="220.50" r="1.85" fill="#fff" stroke="#5a7a6a" stroke-width="0.85"/>
<circle cx="278.50" cy="231.00" r="1.85" fill="#fff" stroke="#5a7a6a" stroke-width="0.85"/>
<circle cx="280.10" cy="242.50" r="1.85" fill="#fff" stroke="#5a7a6a" stroke-width="0.85"/>
<circle cx="268.30" cy="248.10" r="1.85" fill="#fff" stroke="#5a7a6a" stroke-width="0.85"/>
<circle cx="275.70" cy="254.60" r="1.85" fill="#fff" stroke="#5a7a6a" stroke-width="0.85"/>
<circle cx="272.70" cy="259.00" r="1.85" fill="#fff" stroke="#5a7a6a" stroke-width="0.85"/>
<circle cx="270.90" cy="266.60" r="1.85" fill="#fff" stroke="#5a7a6a" stroke-width="0.85"/>
<path d="M308.0 60.5 L308.0 66.4 L307.6 71.4 L308.4 77.3 L307.6 83.8 L308.4 89.3 L310.4 100.6 L306.3 108.8 L309.7 114.6 L309.1 127.7 L307.6 139.7 L306.9 150.6 L306.9 160.7 L306.9 166.2 L306.3 171.6 L306.3 177.1 L306.3 182.5 L306.9 186.9 L306.9 198.3 L307.6 210.1 L308.4 215.7 L306.3 220.5 L307.6 231.0 L306.6 242.5 L305.8 248.1 L303.2 254.2 L303.6 258.6 L301.9 266.6" stroke="#4a7c70" stroke-width="0.7" fill="none"/>
<circle cx="308.00" cy="60.50" r="1.85" fill="#fff" stroke="#4a7c70" stroke-width="0.85"/>
<circle cx="308.00" cy="66.40" r="1.85" fill="#fff" stroke="#4a7c70" stroke-width="0.85"/>
<circle cx="307.60" cy="71.40" r="1.85" fill="#fff" stroke="#4a7c70" stroke-width="0.85"/>
<circle cx="308.40" cy="77.30" r="1.85" fill="#fff" stroke="#4a7c70" stroke-width="0.85"/>
<circle cx="307.60" cy="83.80" r="1.85" fill="#fff" stroke="#4a7c70" stroke-width="0.85"/>
<circle cx="308.40" cy="89.30" r="1.85" fill="#fff" stroke="#4a7c70" stroke-width="0.85"/>
<circle cx="310.40" cy="100.60" r="1.85" fill="#fff" stroke="#4a7c70" stroke-width="0.85"/>
<circle cx="306.30" cy="108.80" r="1.85" fill="#fff" stroke="#4a7c70" stroke-width="0.85"/>
<circle cx="309.70" cy="114.60" r="1.85" fill="#fff" stroke="#4a7c70" stroke-width="0.85"/>
<circle cx="309.10" cy="127.70" r="1.85" fill="#fff" stroke="#4a7c70" stroke-width="0.85"/>
<circle cx="307.60" cy="139.70" r="1.85" fill="#fff" stroke="#4a7c70" stroke-width="0.85"/>
<circle cx="306.90" cy="150.60" r="1.85" fill="#fff" stroke="#4a7c70" stroke-width="0.85"/>
<circle cx="306.90" cy="160.70" r="1.85" fill="#fff" stroke="#4a7c70" stroke-width="0.85"/>
<circle cx="306.90" cy="166.20" r="1.85" fill="#fff" stroke="#4a7c70" stroke-width="0.85"/>
<circle cx="306.30" cy="171.60" r="1.85" fill="#fff" stroke="#4a7c70" stroke-width="0.85"/>
<circle cx="306.30" cy="177.10" r="1.85" fill="#fff" stroke="#4a7c70" stroke-width="0.85"/>
<circle cx="306.30" cy="182.50" r="1.85" fill="#fff" stroke="#4a7c70" stroke-width="0.85"/>
<circle cx="306.90" cy="186.90" r="1.85" fill="#fff" stroke="#4a7c70" stroke-width="0.85"/>
<circle cx="306.90" cy="198.30" r="1.85" fill="#fff" stroke="#4a7c70" stroke-width="0.85"/>
<circle cx="307.60" cy="210.10" r="1.85" fill="#fff" stroke="#4a7c70" stroke-width="0.85"/>
<circle cx="308.40" cy="215.70" r="1.85" fill="#fff" stroke="#4a7c70" stroke-width="0.85"/>
<circle cx="306.30" cy="220.50" r="1.85" fill="#fff" stroke="#4a7c70" stroke-width="0.85"/>
<circle cx="307.60" cy="231.00" r="1.85" fill="#fff" stroke="#4a7c70" stroke-width="0.85"/>
<circle cx="306.60" cy="242.50" r="1.85" fill="#fff" stroke="#4a7c70" stroke-width="0.85"/>
<circle cx="305.80" cy="248.10" r="1.85" fill="#fff" stroke="#4a7c70" stroke-width="0.85"/>
<circle cx="303.20" cy="254.20" r="1.85" fill="#fff" stroke="#4a7c70" stroke-width="0.85"/>
<circle cx="303.60" cy="258.60" r="1.85" fill="#fff" stroke="#4a7c70" stroke-width="0.85"/>
<circle cx="301.90" cy="266.60" r="1.85" fill="#fff" stroke="#4a7c70" stroke-width="0.85"/>
<path d="M325.5 60.5 L324.4 70.7 L333.1 74.7 L323.7 83.8 L323.7 89.3 L325.0 100.6 L331.8 108.8 L323.7 114.6 L325.9 127.7 L326.5 139.7 L325.0 150.6 L324.4 160.7 L325.0 166.2 L325.0 171.6 L325.5 177.1 L325.9 182.5 L325.5 186.9 L329.4 210.1 L335.3 215.3 L334.6 220.5 L334.2 231.0 L335.9 242.5 L321.3 248.1 L322.8 254.6 L322.2 258.6 L323.3 266.6" stroke="#d6aa52" stroke-width="0.7" fill="none"/>
<circle cx="325.50" cy="60.50" r="1.85" fill="#fff" stroke="#d6aa52" stroke-width="0.85"/>
<circle cx="324.40" cy="70.70" r="1.85" fill="#fff" stroke="#d6aa52" stroke-width="0.85"/>
<circle cx="333.10" cy="74.70" r="1.85" fill="#fff" stroke="#d6aa52" stroke-width="0.85"/>
<circle cx="323.70" cy="83.80" r="1.85" fill="#fff" stroke="#d6aa52" stroke-width="0.85"/>
<circle cx="323.70" cy="89.30" r="1.85" fill="#fff" stroke="#d6aa52" stroke-width="0.85"/>
<circle cx="325.00" cy="100.60" r="1.85" fill="#fff" stroke="#d6aa52" stroke-width="0.85"/>
<circle cx="331.80" cy="108.80" r="1.85" fill="#fff" stroke="#d6aa52" stroke-width="0.85"/>
<circle cx="323.70" cy="114.60" r="1.85" fill="#fff" stroke="#d6aa52" stroke-width="0.85"/>
<circle cx="325.90" cy="127.70" r="1.85" fill="#fff" stroke="#d6aa52" stroke-width="0.85"/>
<circle cx="326.50" cy="139.70" r="1.85" fill="#fff" stroke="#d6aa52" stroke-width="0.85"/>
<circle cx="325.00" cy="150.60" r="1.85" fill="#fff" stroke="#d6aa52" stroke-width="0.85"/>
<circle cx="324.40" cy="160.70" r="1.85" fill="#fff" stroke="#d6aa52" stroke-width="0.85"/>
<circle cx="325.00" cy="166.20" r="1.85" fill="#fff" stroke="#d6aa52" stroke-width="0.85"/>
<circle cx="325.00" cy="171.60" r="1.85" fill="#fff" stroke="#d6aa52" stroke-width="0.85"/>
<circle cx="325.50" cy="177.10" r="1.85" fill="#fff" stroke="#d6aa52" stroke-width="0.85"/>
<circle cx="325.90" cy="182.50" r="1.85" fill="#fff" stroke="#d6aa52" stroke-width="0.85"/>
<circle cx="325.50" cy="186.90" r="1.85" fill="#fff" stroke="#d6aa52" stroke-width="0.85"/>
<circle cx="329.40" cy="210.10" r="1.85" fill="#fff" stroke="#d6aa52" stroke-width="0.85"/>
<circle cx="335.30" cy="215.30" r="1.85" fill="#fff" stroke="#d6aa52" stroke-width="0.85"/>
<circle cx="334.60" cy="220.50" r="1.85" fill="#fff" stroke="#d6aa52" stroke-width="0.85"/>
<circle cx="334.20" cy="231.00" r="1.85" fill="#fff" stroke="#d6aa52" stroke-width="0.85"/>
<circle cx="335.90" cy="242.50" r="1.85" fill="#fff" stroke="#d6aa52" stroke-width="0.85"/>
<circle cx="321.30" cy="248.10" r="1.85" fill="#fff" stroke="#d6aa52" stroke-width="0.85"/>
<circle cx="322.80" cy="254.60" r="1.85" fill="#fff" stroke="#d6aa52" stroke-width="0.85"/>
<circle cx="322.20" cy="258.60" r="1.85" fill="#fff" stroke="#d6aa52" stroke-width="0.85"/>
<circle cx="323.30" cy="266.60" r="1.85" fill="#fff" stroke="#d6aa52" stroke-width="0.85"/>
<path d="M361.5 60.5 L358.6 70.7 L356.0 74.7 L361.5 83.8 L360.0 89.3 L358.6 100.6 L362.8 108.8 L358.6 114.6 L360.0 127.7 L365.8 139.7 L364.3 150.6 L363.0 160.7 L364.3 166.2 L369.1 171.6 L363.6 177.1 L365.2 182.5 L370.2 186.9 L365.8 198.3 L362.6 210.1 L359.3 215.7 L365.8 220.5 L365.8 231.0 L358.9 242.5 L349.5 248.1 L352.7 254.6 L349.9 258.6 L355.6 266.6" stroke="#d6aa52" stroke-width="0.7" fill="none"/>
<circle cx="361.50" cy="60.50" r="1.85" fill="#fff" stroke="#d6aa52" stroke-width="0.85"/>
<circle cx="358.60" cy="70.70" r="1.85" fill="#fff" stroke="#d6aa52" stroke-width="0.85"/>
<circle cx="356.00" cy="74.70" r="1.85" fill="#fff" stroke="#d6aa52" stroke-width="0.85"/>
<circle cx="361.50" cy="83.80" r="1.85" fill="#fff" stroke="#d6aa52" stroke-width="0.85"/>
<circle cx="360.00" cy="89.30" r="1.85" fill="#fff" stroke="#d6aa52" stroke-width="0.85"/>
<circle cx="358.60" cy="100.60" r="1.85" fill="#fff" stroke="#d6aa52" stroke-width="0.85"/>
<circle cx="362.80" cy="108.80" r="1.85" fill="#fff" stroke="#d6aa52" stroke-width="0.85"/>
<circle cx="358.60" cy="114.60" r="1.85" fill="#fff" stroke="#d6aa52" stroke-width="0.85"/>
<circle cx="360.00" cy="127.70" r="1.85" fill="#fff" stroke="#d6aa52" stroke-width="0.85"/>
<circle cx="365.80" cy="139.70" r="1.85" fill="#fff" stroke="#d6aa52" stroke-width="0.85"/>
<circle cx="364.30" cy="150.60" r="1.85" fill="#fff" stroke="#d6aa52" stroke-width="0.85"/>
<circle cx="363.00" cy="160.70" r="1.85" fill="#fff" stroke="#d6aa52" stroke-width="0.85"/>
<circle cx="364.30" cy="166.20" r="1.85" fill="#fff" stroke="#d6aa52" stroke-width="0.85"/>
<circle cx="369.10" cy="171.60" r="1.85" fill="#fff" stroke="#d6aa52" stroke-width="0.85"/>
<circle cx="363.60" cy="177.10" r="1.85" fill="#fff" stroke="#d6aa52" stroke-width="0.85"/>
<circle cx="365.20" cy="182.50" r="1.85" fill="#fff" stroke="#d6aa52" stroke-width="0.85"/>
<circle cx="370.20" cy="186.90" r="1.85" fill="#fff" stroke="#d6aa52" stroke-width="0.85"/>
<circle cx="365.80" cy="198.30" r="1.85" fill="#fff" stroke="#d6aa52" stroke-width="0.85"/>
<circle cx="362.60" cy="210.10" r="1.85" fill="#fff" stroke="#d6aa52" stroke-width="0.85"/>
<circle cx="359.30" cy="215.70" r="1.85" fill="#fff" stroke="#d6aa52" stroke-width="0.85"/>
<circle cx="365.80" cy="220.50" r="1.85" fill="#fff" stroke="#d6aa52" stroke-width="0.85"/>
<circle cx="365.80" cy="231.00" r="1.85" fill="#fff" stroke="#d6aa52" stroke-width="0.85"/>
<circle cx="358.90" cy="242.50" r="1.85" fill="#fff" stroke="#d6aa52" stroke-width="0.85"/>
<circle cx="349.50" cy="248.10" r="1.85" fill="#fff" stroke="#d6aa52" stroke-width="0.85"/>
<circle cx="352.70" cy="254.60" r="1.85" fill="#fff" stroke="#d6aa52" stroke-width="0.85"/>
<circle cx="349.90" cy="258.60" r="1.85" fill="#fff" stroke="#d6aa52" stroke-width="0.85"/>
<circle cx="355.60" cy="266.60" r="1.85" fill="#fff" stroke="#d6aa52" stroke-width="0.85"/>
<path d="M392.5 60.5 L389.2 70.7 L390.7 75.1 L393.5 80.5 L388.5 83.8 L389.8 89.3 L388.1 100.6 L384.8 108.8 L386.3 114.6 L384.8 127.7 L386.3 139.7 L382.6 150.6 L385.5 160.7 L383.7 166.2 L387.0 171.6 L384.8 177.1 L384.2 181.9 L383.7 186.9 L383.3 198.3 L387.7 209.6 L389.2 215.1 L385.5 220.5 L385.9 231.0 L385.9 242.5 L377.6 248.5 L377.6 250.9 L377.6 254.6 L377.2 259.0 L379.8 266.6" stroke="#c8a03c" stroke-width="0.7" fill="none"/>
<rect x="391.02" y="59.02" width="2.96" height="2.96" fill="#fff" stroke="#c8a03c" stroke-width="0.85"/>
<circle cx="389.20" cy="70.70" r="1.85" fill="#fff" stroke="#c8a03c" stroke-width="0.85"/>
<circle cx="390.70" cy="75.10" r="1.85" fill="#fff" stroke="#c8a03c" stroke-width="0.85"/>
<circle cx="393.50" cy="80.50" r="1.85" fill="#fff" stroke="#c8a03c" stroke-width="0.85"/>
<circle cx="388.50" cy="83.80" r="1.85" fill="#fff" stroke="#c8a03c" stroke-width="0.85"/>
<circle cx="389.80" cy="89.30" r="1.85" fill="#fff" stroke="#c8a03c" stroke-width="0.85"/>
<circle cx="388.10" cy="100.60" r="1.85" fill="#fff" stroke="#c8a03c" stroke-width="0.85"/>
<circle cx="384.80" cy="108.80" r="1.85" fill="#fff" stroke="#c8a03c" stroke-width="0.85"/>
<circle cx="386.30" cy="114.60" r="1.85" fill="#fff" stroke="#c8a03c" stroke-width="0.85"/>
<circle cx="384.80" cy="127.70" r="1.85" fill="#fff" stroke="#c8a03c" stroke-width="0.85"/>
<circle cx="386.30" cy="139.70" r="1.85" fill="#fff" stroke="#c8a03c" stroke-width="0.85"/>
<circle cx="382.60" cy="150.60" r="1.85" fill="#fff" stroke="#c8a03c" stroke-width="0.85"/>
<circle cx="385.50" cy="160.70" r="1.85" fill="#fff" stroke="#c8a03c" stroke-width="0.85"/>
<circle cx="383.70" cy="166.20" r="1.85" fill="#fff" stroke="#c8a03c" stroke-width="0.85"/>
<circle cx="387.00" cy="171.60" r="1.85" fill="#fff" stroke="#c8a03c" stroke-width="0.85"/>
<circle cx="384.80" cy="177.10" r="1.85" fill="#fff" stroke="#c8a03c" stroke-width="0.85"/>
<circle cx="384.20" cy="181.90" r="1.85" fill="#fff" stroke="#c8a03c" stroke-width="0.85"/>
<circle cx="383.70" cy="186.90" r="1.85" fill="#fff" stroke="#c8a03c" stroke-width="0.85"/>
<circle cx="383.30" cy="198.30" r="1.85" fill="#fff" stroke="#c8a03c" stroke-width="0.85"/>
<circle cx="387.70" cy="209.60" r="1.85" fill="#fff" stroke="#c8a03c" stroke-width="0.85"/>
<circle cx="389.20" cy="215.10" r="1.85" fill="#fff" stroke="#c8a03c" stroke-width="0.85"/>
<circle cx="385.50" cy="220.50" r="1.85" fill="#fff" stroke="#c8a03c" stroke-width="0.85"/>
<circle cx="385.90" cy="231.00" r="1.85" fill="#fff" stroke="#c8a03c" stroke-width="0.85"/>
<circle cx="385.90" cy="242.50" r="1.85" fill="#fff" stroke="#c8a03c" stroke-width="0.85"/>
<circle cx="377.60" cy="248.50" r="1.85" fill="#fff" stroke="#c8a03c" stroke-width="0.85"/>
<circle cx="377.60" cy="250.90" r="1.85" fill="#fff" stroke="#c8a03c" stroke-width="0.85"/>
<circle cx="377.60" cy="254.60" r="1.85" fill="#fff" stroke="#c8a03c" stroke-width="0.85"/>
<circle cx="377.20" cy="259.00" r="1.85" fill="#fff" stroke="#c8a03c" stroke-width="0.85"/>
<circle cx="379.80" cy="266.60" r="1.85" fill="#fff" stroke="#c8a03c" stroke-width="0.85"/>
<path d="M418.2 60.5 L419.7 70.7 L412.5 74.7 L423.4 83.8 L426.9 89.3 L416.0 100.6 L408.8 108.8 L418.2 114.6 L414.7 127.7 L414.3 139.7 L414.3 150.6 L417.5 160.7 L414.7 166.2 L414.7 171.6 L411.0 177.1 L413.2 181.9 L416.5 186.9 L405.8 198.3 L411.0 209.6 L407.7 215.1 L409.5 220.5 L408.2 231.0 L407.3 242.5 L408.8 248.1 L418.2 254.6 L408.8 258.6 L408.2 266.6" stroke="#c4a4ec" stroke-width="0.7" fill="none"/>
<rect x="416.72" y="59.02" width="2.96" height="2.96" fill="#fff" stroke="#c4a4ec" stroke-width="0.85"/>
<circle cx="419.70" cy="70.70" r="1.85" fill="#fff" stroke="#c4a4ec" stroke-width="0.85"/>
<circle cx="412.50" cy="74.70" r="1.85" fill="#fff" stroke="#c4a4ec" stroke-width="0.85"/>
<circle cx="423.40" cy="83.80" r="1.85" fill="#fff" stroke="#c4a4ec" stroke-width="0.85"/>
<circle cx="426.90" cy="89.30" r="1.85" fill="#fff" stroke="#c4a4ec" stroke-width="0.85"/>
<circle cx="416.00" cy="100.60" r="1.85" fill="#fff" stroke="#c4a4ec" stroke-width="0.85"/>
<circle cx="408.80" cy="108.80" r="1.85" fill="#fff" stroke="#c4a4ec" stroke-width="0.85"/>
<circle cx="418.20" cy="114.60" r="1.85" fill="#fff" stroke="#c4a4ec" stroke-width="0.85"/>
<circle cx="414.70" cy="127.70" r="1.85" fill="#fff" stroke="#c4a4ec" stroke-width="0.85"/>
<circle cx="414.30" cy="139.70" r="1.85" fill="#fff" stroke="#c4a4ec" stroke-width="0.85"/>
<circle cx="414.30" cy="150.60" r="1.85" fill="#fff" stroke="#c4a4ec" stroke-width="0.85"/>
<circle cx="417.50" cy="160.70" r="1.85" fill="#fff" stroke="#c4a4ec" stroke-width="0.85"/>
<circle cx="414.70" cy="166.20" r="1.85" fill="#fff" stroke="#c4a4ec" stroke-width="0.85"/>
<circle cx="414.70" cy="171.60" r="1.85" fill="#fff" stroke="#c4a4ec" stroke-width="0.85"/>
<circle cx="411.00" cy="177.10" r="1.85" fill="#fff" stroke="#c4a4ec" stroke-width="0.85"/>
<circle cx="413.20" cy="181.90" r="1.85" fill="#fff" stroke="#c4a4ec" stroke-width="0.85"/>
<circle cx="416.50" cy="186.90" r="1.85" fill="#fff" stroke="#c4a4ec" stroke-width="0.85"/>
<circle cx="405.80" cy="198.30" r="1.85" fill="#fff" stroke="#c4a4ec" stroke-width="0.85"/>
<circle cx="411.00" cy="209.60" r="1.85" fill="#fff" stroke="#c4a4ec" stroke-width="0.85"/>
<circle cx="407.70" cy="215.10" r="1.85" fill="#fff" stroke="#c4a4ec" stroke-width="0.85"/>
<circle cx="409.50" cy="220.50" r="1.85" fill="#fff" stroke="#c4a4ec" stroke-width="0.85"/>
<circle cx="408.20" cy="231.00" r="1.85" fill="#fff" stroke="#c4a4ec" stroke-width="0.85"/>
<circle cx="407.30" cy="242.50" r="1.85" fill="#fff" stroke="#c4a4ec" stroke-width="0.85"/>
<circle cx="408.80" cy="248.10" r="1.85" fill="#fff" stroke="#c4a4ec" stroke-width="0.85"/>
<circle cx="418.20" cy="254.60" r="1.85" fill="#fff" stroke="#c4a4ec" stroke-width="0.85"/>
<circle cx="408.80" cy="258.60" r="1.85" fill="#fff" stroke="#c4a4ec" stroke-width="0.85"/>
<circle cx="408.20" cy="266.60" r="1.85" fill="#fff" stroke="#c4a4ec" stroke-width="0.85"/>
<path d="M436.1 60.5 L447.4 70.7 L447.0 74.7 L442.2 81.2 L436.1 83.8 L436.5 89.3 L440.7 100.6 L436.5 108.8 L444.8 114.6 L437.8 127.7 L436.1 139.7 L436.1 150.6 L436.5 160.7 L437.2 166.2 L437.2 171.6 L437.2 177.1 L436.5 181.9 L436.5 186.9 L436.5 198.3 L440.0 209.6 L447.4 215.1 L435.0 220.5 L436.1 231.0 L455.3 242.5 L439.4 248.1 L437.2 254.6 L450.3 258.6 L435.7 266.6" stroke="#7cb254" stroke-width="0.7" fill="none"/>
<rect x="434.62" y="59.02" width="2.96" height="2.96" fill="#fff" stroke="#7cb254" stroke-width="0.85"/>
<circle cx="447.40" cy="70.70" r="1.85" fill="#fff" stroke="#7cb254" stroke-width="0.85"/>
<circle cx="447.00" cy="74.70" r="1.85" fill="#fff" stroke="#7cb254" stroke-width="0.85"/>
<circle cx="442.20" cy="81.20" r="1.85" fill="#fff" stroke="#7cb254" stroke-width="0.85"/>
<circle cx="436.10" cy="83.80" r="1.85" fill="#fff" stroke="#7cb254" stroke-width="0.85"/>
<circle cx="436.50" cy="89.30" r="1.85" fill="#fff" stroke="#7cb254" stroke-width="0.85"/>
<circle cx="440.70" cy="100.60" r="1.85" fill="#fff" stroke="#7cb254" stroke-width="0.85"/>
<circle cx="436.50" cy="108.80" r="1.85" fill="#fff" stroke="#7cb254" stroke-width="0.85"/>
<circle cx="444.80" cy="114.60" r="1.85" fill="#fff" stroke="#7cb254" stroke-width="0.85"/>
<circle cx="437.80" cy="127.70" r="1.85" fill="#fff" stroke="#7cb254" stroke-width="0.85"/>
<circle cx="436.10" cy="139.70" r="1.85" fill="#fff" stroke="#7cb254" stroke-width="0.85"/>
<circle cx="436.10" cy="150.60" r="1.85" fill="#fff" stroke="#7cb254" stroke-width="0.85"/>
<circle cx="436.50" cy="160.70" r="1.85" fill="#fff" stroke="#7cb254" stroke-width="0.85"/>
<circle cx="437.20" cy="166.20" r="1.85" fill="#fff" stroke="#7cb254" stroke-width="0.85"/>
<circle cx="437.20" cy="171.60" r="1.85" fill="#fff" stroke="#7cb254" stroke-width="0.85"/>
<circle cx="437.20" cy="177.10" r="1.85" fill="#fff" stroke="#7cb254" stroke-width="0.85"/>
<circle cx="436.50" cy="181.90" r="1.85" fill="#fff" stroke="#7cb254" stroke-width="0.85"/>
<circle cx="436.50" cy="186.90" r="1.85" fill="#fff" stroke="#7cb254" stroke-width="0.85"/>
<circle cx="436.50" cy="198.30" r="1.85" fill="#fff" stroke="#7cb254" stroke-width="0.85"/>
<circle cx="440.00" cy="209.60" r="1.85" fill="#fff" stroke="#7cb254" stroke-width="0.85"/>
<circle cx="447.40" cy="215.10" r="1.85" fill="#fff" stroke="#7cb254" stroke-width="0.85"/>
<circle cx="435.00" cy="220.50" r="1.85" fill="#fff" stroke="#7cb254" stroke-width="0.85"/>
<circle cx="436.10" cy="231.00" r="1.85" fill="#fff" stroke="#7cb254" stroke-width="0.85"/>
<circle cx="455.30" cy="242.50" r="1.85" fill="#fff" stroke="#7cb254" stroke-width="0.85"/>
<circle cx="439.40" cy="248.10" r="1.85" fill="#fff" stroke="#7cb254" stroke-width="0.85"/>
<circle cx="437.20" cy="254.60" r="1.85" fill="#fff" stroke="#7cb254" stroke-width="0.85"/>
<circle cx="450.30" cy="258.60" r="1.85" fill="#fff" stroke="#7cb254" stroke-width="0.85"/>
<circle cx="435.70" cy="266.60" r="1.85" fill="#fff" stroke="#7cb254" stroke-width="0.85"/>
<path d="M467.7 60.5 L466.6 70.7 L467.1 74.7 L473.2 81.2 L463.4 83.8 L468.8 89.3 L481.5 100.6 L464.0 108.8 L469.3 114.6 L465.6 127.7 L470.6 139.7 L469.3 150.6 L463.4 160.7 L464.0 166.2 L470.6 171.6 L463.4 177.1 L464.9 181.9 L464.5 186.9 L465.6 198.3 L475.4 209.6 L475.4 215.1 L464.9 220.5 L464.9 231.0 L485.8 242.5 L463.4 248.1 L470.6 254.6 L477.6 258.6 L468.4 266.6" stroke="#7cb254" stroke-width="0.7" fill="none"/>
<rect x="466.22" y="59.02" width="2.96" height="2.96" fill="#fff" stroke="#7cb254" stroke-width="0.85"/>
<circle cx="466.60" cy="70.70" r="1.85" fill="#fff" stroke="#7cb254" stroke-width="0.85"/>
<circle cx="467.10" cy="74.70" r="1.85" fill="#fff" stroke="#7cb254" stroke-width="0.85"/>
<circle cx="473.20" cy="81.20" r="1.85" fill="#fff" stroke="#7cb254" stroke-width="0.85"/>
<circle cx="463.40" cy="83.80" r="1.85" fill="#fff" stroke="#7cb254" stroke-width="0.85"/>
<circle cx="468.80" cy="89.30" r="1.85" fill="#fff" stroke="#7cb254" stroke-width="0.85"/>
<circle cx="481.50" cy="100.60" r="1.85" fill="#fff" stroke="#7cb254" stroke-width="0.85"/>
<circle cx="464.00" cy="108.80" r="1.85" fill="#fff" stroke="#7cb254" stroke-width="0.85"/>
<circle cx="469.30" cy="114.60" r="1.85" fill="#fff" stroke="#7cb254" stroke-width="0.85"/>
<circle cx="465.60" cy="127.70" r="1.85" fill="#fff" stroke="#7cb254" stroke-width="0.85"/>
<circle cx="470.60" cy="139.70" r="1.85" fill="#fff" stroke="#7cb254" stroke-width="0.85"/>
<circle cx="469.30" cy="150.60" r="1.85" fill="#fff" stroke="#7cb254" stroke-width="0.85"/>
<circle cx="463.40" cy="160.70" r="1.85" fill="#fff" stroke="#7cb254" stroke-width="0.85"/>
<circle cx="464.00" cy="166.20" r="1.85" fill="#fff" stroke="#7cb254" stroke-width="0.85"/>
<circle cx="470.60" cy="171.60" r="1.85" fill="#fff" stroke="#7cb254" stroke-width="0.85"/>
<circle cx="463.40" cy="177.10" r="1.85" fill="#fff" stroke="#7cb254" stroke-width="0.85"/>
<circle cx="464.90" cy="181.90" r="1.85" fill="#fff" stroke="#7cb254" stroke-width="0.85"/>
<circle cx="464.50" cy="186.90" r="1.85" fill="#fff" stroke="#7cb254" stroke-width="0.85"/>
<circle cx="465.60" cy="198.30" r="1.85" fill="#fff" stroke="#7cb254" stroke-width="0.85"/>
<circle cx="475.40" cy="209.60" r="1.85" fill="#fff" stroke="#7cb254" stroke-width="0.85"/>
<circle cx="475.40" cy="215.10" r="1.85" fill="#fff" stroke="#7cb254" stroke-width="0.85"/>
<circle cx="464.90" cy="220.50" r="1.85" fill="#fff" stroke="#7cb254" stroke-width="0.85"/>
<circle cx="464.90" cy="231.00" r="1.85" fill="#fff" stroke="#7cb254" stroke-width="0.85"/>
<circle cx="485.80" cy="242.50" r="1.85" fill="#fff" stroke="#7cb254" stroke-width="0.85"/>
<circle cx="463.40" cy="248.10" r="1.85" fill="#fff" stroke="#7cb254" stroke-width="0.85"/>
<circle cx="470.60" cy="254.60" r="1.85" fill="#fff" stroke="#7cb254" stroke-width="0.85"/>
<circle cx="477.60" cy="258.60" r="1.85" fill="#fff" stroke="#7cb254" stroke-width="0.85"/>
<circle cx="468.40" cy="266.60" r="1.85" fill="#fff" stroke="#7cb254" stroke-width="0.85"/>
<path d="M492.6 60.4 L492.6 70.5 L492.6 74.3 L492.6 83.7 L492.6 88.8 L492.6 100.4 L492.6 108.9 L492.0 114.2 L492.6 128.0 L492.6 139.4 L492.6 150.8 L493.0 160.4 L493.0 166.1 L493.0 171.8 L493.0 177.5 L494.0 182.6 L494.0 187.0 L495.0 198.9 L494.1 209.1 L494.1 214.8 L494.1 220.5 L494.1 230.7 L496.7 242.8 L503.0 248.6 L503.0 254.2 L500.6 259.2 L501.1 266.3" stroke="#8a94e6" stroke-width="0.7" fill="none"/>
<rect x="491.12" y="58.92" width="2.96" height="2.96" fill="#fff" stroke="#8a94e6" stroke-width="0.85"/>
<circle cx="492.60" cy="70.50" r="1.85" fill="#fff" stroke="#8a94e6" stroke-width="0.85"/>
<circle cx="492.60" cy="74.30" r="1.85" fill="#fff" stroke="#8a94e6" stroke-width="0.85"/>
<circle cx="492.60" cy="83.70" r="1.85" fill="#fff" stroke="#8a94e6" stroke-width="0.85"/>
<circle cx="492.60" cy="88.80" r="1.85" fill="#fff" stroke="#8a94e6" stroke-width="0.85"/>
<circle cx="492.60" cy="100.40" r="1.85" fill="#fff" stroke="#8a94e6" stroke-width="0.85"/>
<circle cx="492.60" cy="108.90" r="1.85" fill="#fff" stroke="#8a94e6" stroke-width="0.85"/>
<circle cx="492.00" cy="114.20" r="1.85" fill="#fff" stroke="#8a94e6" stroke-width="0.85"/>
<circle cx="492.60" cy="128.00" r="1.85" fill="#fff" stroke="#8a94e6" stroke-width="0.85"/>
<circle cx="492.60" cy="139.40" r="1.85" fill="#fff" stroke="#8a94e6" stroke-width="0.85"/>
<circle cx="492.60" cy="150.80" r="1.85" fill="#fff" stroke="#8a94e6" stroke-width="0.85"/>
<circle cx="493.00" cy="160.40" r="1.85" fill="#fff" stroke="#8a94e6" stroke-width="0.85"/>
<circle cx="493.00" cy="166.10" r="1.85" fill="#fff" stroke="#8a94e6" stroke-width="0.85"/>
<circle cx="493.00" cy="171.80" r="1.85" fill="#fff" stroke="#8a94e6" stroke-width="0.85"/>
<circle cx="493.00" cy="177.50" r="1.85" fill="#fff" stroke="#8a94e6" stroke-width="0.85"/>
<circle cx="494.00" cy="182.60" r="1.85" fill="#fff" stroke="#8a94e6" stroke-width="0.85"/>
<circle cx="494.00" cy="187.00" r="1.85" fill="#fff" stroke="#8a94e6" stroke-width="0.85"/>
<circle cx="495.00" cy="198.90" r="1.85" fill="#fff" stroke="#8a94e6" stroke-width="0.85"/>
<circle cx="494.10" cy="209.10" r="1.85" fill="#fff" stroke="#8a94e6" stroke-width="0.85"/>
<circle cx="494.10" cy="214.80" r="1.85" fill="#fff" stroke="#8a94e6" stroke-width="0.85"/>
<circle cx="494.10" cy="220.50" r="1.85" fill="#fff" stroke="#8a94e6" stroke-width="0.85"/>
<circle cx="494.10" cy="230.70" r="1.85" fill="#fff" stroke="#8a94e6" stroke-width="0.85"/>
<circle cx="496.70" cy="242.80" r="1.85" fill="#fff" stroke="#8a94e6" stroke-width="0.85"/>
<circle cx="503.00" cy="248.60" r="1.85" fill="#fff" stroke="#8a94e6" stroke-width="0.85"/>
<circle cx="503.00" cy="254.20" r="1.85" fill="#fff" stroke="#8a94e6" stroke-width="0.85"/>
<circle cx="500.60" cy="259.20" r="1.85" fill="#fff" stroke="#8a94e6" stroke-width="0.85"/>
<circle cx="501.10" cy="266.30" r="1.85" fill="#fff" stroke="#8a94e6" stroke-width="0.85"/>
<path d="M533.9 61.0 L529.5 70.5 L539.6 75.0 L532.4 83.7 L535.8 88.8 L529.5 100.4 L529.8 108.9 L528.2 114.2 L529.5 128.0 L532.0 139.4 L528.6 150.8 L530.1 160.4 L528.2 166.1 L530.1 171.8 L525.7 177.5 L529.5 182.6 L529.0 187.0 L525.7 198.9 L530.1 208.9 L528.2 214.8 L533.3 220.5 L529.5 230.7 L527.6 242.8 L518.2 248.6 L525.7 254.4 L518.5 259.3 L520.1 266.3" stroke="#3c3c3c" stroke-width="0.7" fill="none"/>
<circle cx="533.90" cy="61.00" r="1.85" fill="#fff" stroke="#3c3c3c" stroke-width="0.85"/>
<circle cx="529.50" cy="70.50" r="1.85" fill="#fff" stroke="#3c3c3c" stroke-width="0.85"/>
<circle cx="539.60" cy="75.00" r="1.85" fill="#fff" stroke="#3c3c3c" stroke-width="0.85"/>
<circle cx="532.40" cy="83.70" r="1.85" fill="#fff" stroke="#3c3c3c" stroke-width="0.85"/>
<circle cx="535.80" cy="88.80" r="1.85" fill="#fff" stroke="#3c3c3c" stroke-width="0.85"/>
<circle cx="529.50" cy="100.40" r="1.85" fill="#fff" stroke="#3c3c3c" stroke-width="0.85"/>
<circle cx="529.80" cy="108.90" r="1.85" fill="#fff" stroke="#3c3c3c" stroke-width="0.85"/>
<circle cx="528.20" cy="114.20" r="1.85" fill="#fff" stroke="#3c3c3c" stroke-width="0.85"/>
<circle cx="529.50" cy="128.00" r="1.85" fill="#fff" stroke="#3c3c3c" stroke-width="0.85"/>
<circle cx="532.00" cy="139.40" r="1.85" fill="#fff" stroke="#3c3c3c" stroke-width="0.85"/>
<circle cx="528.60" cy="150.80" r="1.85" fill="#fff" stroke="#3c3c3c" stroke-width="0.85"/>
<circle cx="530.10" cy="160.40" r="1.85" fill="#fff" stroke="#3c3c3c" stroke-width="0.85"/>
<circle cx="528.20" cy="166.10" r="1.85" fill="#fff" stroke="#3c3c3c" stroke-width="0.85"/>
<circle cx="530.10" cy="171.80" r="1.85" fill="#fff" stroke="#3c3c3c" stroke-width="0.85"/>
<circle cx="525.70" cy="177.50" r="1.85" fill="#fff" stroke="#3c3c3c" stroke-width="0.85"/>
<circle cx="529.50" cy="182.60" r="1.85" fill="#fff" stroke="#3c3c3c" stroke-width="0.85"/>
<circle cx="529.00" cy="187.00" r="1.85" fill="#fff" stroke="#3c3c3c" stroke-width="0.85"/>
<circle cx="525.70" cy="198.90" r="1.85" fill="#fff" stroke="#3c3c3c" stroke-width="0.85"/>
<circle cx="530.10" cy="208.90" r="1.85" fill="#fff" stroke="#3c3c3c" stroke-width="0.85"/>
<circle cx="528.20" cy="214.80" r="1.85" fill="#fff" stroke="#3c3c3c" stroke-width="0.85"/>
<circle cx="533.30" cy="220.50" r="1.85" fill="#fff" stroke="#3c3c3c" stroke-width="0.85"/>
<circle cx="529.50" cy="230.70" r="1.85" fill="#fff" stroke="#3c3c3c" stroke-width="0.85"/>
<circle cx="527.60" cy="242.80" r="1.85" fill="#fff" stroke="#3c3c3c" stroke-width="0.85"/>
<circle cx="518.20" cy="248.60" r="1.85" fill="#fff" stroke="#3c3c3c" stroke-width="0.85"/>
<circle cx="525.70" cy="254.40" r="1.85" fill="#fff" stroke="#3c3c3c" stroke-width="0.85"/>
<circle cx="518.50" cy="259.30" r="1.85" fill="#fff" stroke="#3c3c3c" stroke-width="0.85"/>
<circle cx="520.10" cy="266.30" r="1.85" fill="#fff" stroke="#3c3c3c" stroke-width="0.85"/>
<line x1="0" y1="122.7" x2="150" y2="122.7" stroke="#f27ac0" stroke-width="0.9" stroke-dasharray="1 1.3" opacity="0.75"/>
<line x1="150" y1="122.7" x2="230" y2="122.7" stroke="#f27ac0" stroke-width="0.9" stroke-dasharray="1 1.3" opacity="0.35"/>
<line x1="88" y1="114.6" x2="290" y2="114.6" stroke="#f27ac0" stroke-width="0.9" stroke-dasharray="1 1.3" opacity="0.35"/>
<rect x="60.5" y="115" width="13.5" height="1.4" fill="#4ee6cc" />
<rect x="33.5" y="68" width="13" height="0.9" fill="#f070d0" />
<rect x="34" y="65.5" width="12" height="1.5" fill="#c8f8f0" opacity="0.7"/>
<rect x="48" y="128" width="16" height="2.6" fill="#f8b8e0" opacity="0.8"/>
<rect x="60" y="129" width="12" height="7" fill="#fbd4e4" opacity="0.8"/>
<rect x="49" y="131" width="17" height="4.6" fill="#7cf0cc" opacity="0.85"/>
<rect x="40" y="144" width="3" height="6.5" fill="#f8b4e0" />
<rect x="46.5" y="144" width="1.8" height="6.5" fill="#50e8c8" />
<rect x="56" y="144" width="3" height="7" fill="#70f0e0" />
<rect x="59" y="144" width="4.5" height="7" fill="#f8b8e0" />
<rect x="61" y="144" width="4" height="8" fill="#b8f4f0" opacity="0.7"/>
<rect x="22" y="130" width="18" height="6" fill="#d8f8f8" opacity="0.7"/>
<path d="M4 140 Q14 128 30 118" stroke="#f4a0d0" stroke-width="0.7" fill="none" opacity="0.7"/>
<path d="M6 160 Q10 150 20 146" stroke="#f4a0d0" stroke-width="0.7" fill="none" opacity="0.6"/>
<path d="M90 131 L97 127" stroke="#e8508a" stroke-width="0.8" fill="none"/>
<path d="M116 128 L128 136" stroke="#f070b0" stroke-width="0.7" fill="none" opacity="0.7"/>
<path d="M95 160 Q100 152 102 150" stroke="#40c890" stroke-width="0.7" fill="none" opacity="0.8"/>
<path d="M102 118 L106 118 L106 113" stroke="#f070b0" stroke-width="0.6" fill="none" opacity="0.7"/>
<line x1="4" y1="4.5" x2="545.5" y2="4.5" stroke="#404040" stroke-width="1.3" />
<line x1="148.5" y1="18.5" x2="516.5" y2="18.5" stroke="#404040" stroke-width="1.1" />
<line x1="4" y1="39.5" x2="545.5" y2="39.5" stroke="#404040" stroke-width="1.3" />
<line x1="4" y1="286.8" x2="545.5" y2="286.8" stroke="#555" stroke-width="1.8" />
<line x1="4.5" y1="4.5" x2="4.5" y2="286.5" stroke="#404040" stroke-width="1.2" />
<line x1="18.5" y1="4.5" x2="18.5" y2="286.5" stroke="#404040" stroke-width="1.2" />
<line x1="32.5" y1="4.5" x2="32.5" y2="286.5" stroke="#404040" stroke-width="1.2" />
<line x1="46.5" y1="4.5" x2="46.5" y2="286.5" stroke="#404040" stroke-width="1.2" />
<line x1="60.5" y1="4.5" x2="60.5" y2="286.5" stroke="#404040" stroke-width="1.2" />
<line x1="88.5" y1="4.5" x2="88.5" y2="286.5" stroke="#404040" stroke-width="1.2" />
<line x1="115.5" y1="4.5" x2="115.5" y2="286.5" stroke="#404040" stroke-width="1.2" />
<line x1="131.5" y1="4.5" x2="131.5" y2="286.5" stroke="#404040" stroke-width="1.2" />
<line x1="148.5" y1="4.5" x2="148.5" y2="286.5" stroke="#404040" stroke-width="1.2" />
<line x1="176.5" y1="18.5" x2="176.5" y2="286.5" stroke="#404040" stroke-width="1.2" />
<line x1="205.5" y1="18.5" x2="205.5" y2="286.5" stroke="#404040" stroke-width="1.2" />
<line x1="233.5" y1="18.5" x2="233.5" y2="286.5" stroke="#404040" stroke-width="1.2" />
<line x1="263.5" y1="4.5" x2="263.5" y2="286.5" stroke="#404040" stroke-width="1.2" />
<line x1="291.5" y1="18.5" x2="291.5" y2="286.5" stroke="#404040" stroke-width="1.2" />
<line x1="319.5" y1="18.5" x2="319.5" y2="286.5" stroke="#404040" stroke-width="1.2" />
<line x1="348" y1="18.5" x2="348" y2="286.5" stroke="#404040" stroke-width="1.2" />
<line x1="376" y1="18.5" x2="376" y2="286.5" stroke="#404040" stroke-width="1.2" />
<line x1="404.5" y1="18.5" x2="404.5" y2="286.5" stroke="#404040" stroke-width="1.2" />
<line x1="432.5" y1="18.5" x2="432.5" y2="286.5" stroke="#404040" stroke-width="1.2" />
<line x1="460.5" y1="18.5" x2="460.5" y2="286.5" stroke="#404040" stroke-width="1.2" />
<line x1="488.5" y1="18.5" x2="488.5" y2="286.5" stroke="#404040" stroke-width="1.2" />
<line x1="516.5" y1="4.5" x2="516.5" y2="286.5" stroke="#404040" stroke-width="1.2" />
<line x1="545" y1="4.5" x2="545" y2="286.5" stroke="#404040" stroke-width="1.2" />
<text transform="translate(9.52,21.80) rotate(90)" font-size="6" text-anchor="middle" fill="#2e2e2e" color="#2e2e2e">Formation</text>
<text transform="translate(23.32,21.00) rotate(90)" font-size="6" text-anchor="middle" fill="#2e2e2e" color="#2e2e2e">Member</text>
<text transform="translate(37.42,22.40) rotate(90)" font-size="6" text-anchor="middle" fill="#2e2e2e" color="#2e2e2e">Submember</text>
<text transform="translate(51.52,22.20) rotate(90)" font-size="6" text-anchor="middle" fill="#2e2e2e" color="#2e2e2e">Depth(m)</text>
<text transform="translate(121.52,21.50) rotate(90)" font-size="6" text-anchor="middle" fill="#2e2e2e" color="#2e2e2e">Lithofacies</text>
<text transform="translate(141.09,21.20) rotate(90)" font-size="5.8" text-anchor="middle" fill="#2e2e2e" color="#2e2e2e">Lithofacies</text>
<text transform="translate(134.69,21.90) rotate(90)" font-size="5.8" text-anchor="middle" fill="#2e2e2e" color="#2e2e2e">associations</text>
<text x="74.8" y="23.6" font-size="6" text-anchor="middle" fill="#2e2e2e" color="#2e2e2e" >GR(gAPI)</text>
<text x="102.1" y="23.6" font-size="6" text-anchor="middle" fill="#2e2e2e" color="#2e2e2e" >Lithology</text>
<text x="62.4" y="37.5" font-size="4" text-anchor="middle" fill="#2e2e2e" color="#2e2e2e" >0</text>
<line x1="64.8" y1="36.2" x2="79.2" y2="36.2" stroke="#b05a4a" stroke-width="0.7" />
<text x="80" y="37.5" font-size="4" text-anchor="start" fill="#2e2e2e" color="#2e2e2e" >200</text>
<text x="207.2" y="13.6" font-size="6.2" text-anchor="middle" fill="#2e2e2e" color="#2e2e2e" >Mineral compositions</text>
<text x="392.2" y="13.4" font-size="6.0" text-anchor="middle" fill="#2e2e2e" color="#2e2e2e" >Geochemical proxies</text>
<text x="162.5" y="25.9" font-size="5.8" text-anchor="middle" fill="#2e2e2e" color="#2e2e2e" >Quartz</text>
<text x="162.5" y="32.0" font-size="5.8" text-anchor="middle" fill="#2e2e2e" color="#2e2e2e" >(%)</text>
<text x="191.0" y="25.9" font-size="5.8" text-anchor="middle" fill="#2e2e2e" color="#2e2e2e" >Carbonate</text>
<text x="191.0" y="32.0" font-size="5.8" text-anchor="middle" fill="#2e2e2e" color="#2e2e2e" >(%)</text>
<text x="219.5" y="25.9" font-size="5.8" text-anchor="middle" fill="#2e2e2e" color="#2e2e2e" >Clay</text>
<text x="219.5" y="32.0" font-size="5.8" text-anchor="middle" fill="#2e2e2e" color="#2e2e2e" >(%)</text>
<text x="248.5" y="25.9" font-size="5.8" text-anchor="middle" fill="#2e2e2e" color="#2e2e2e" >Pyrite</text>
<text x="248.5" y="32.0" font-size="5.8" text-anchor="middle" fill="#2e2e2e" color="#2e2e2e" >(%)</text>
<text x="277.5" y="28.7" font-size="5.8" text-anchor="middle" fill="#2e2e2e" color="#2e2e2e" >Cr/Co</text>
<text x="305.5" y="28.7" font-size="5.8" text-anchor="middle" fill="#2e2e2e">Al<tspan font-size="3.6" dy="1.2">2</tspan><tspan dy="-1.2">O</tspan><tspan font-size="3.6" dy="1.2">3</tspan><tspan dy="-1.2">/TiO</tspan><tspan font-size="3.6" dy="1.2">2</tspan></text>
<text x="333.75" y="25.0" font-size="5.8" text-anchor="middle" fill="#2e2e2e" color="#2e2e2e" >P</text>
<text x="333.75" y="32.0" font-size="5.8" text-anchor="middle" fill="#2e2e2e" color="#2e2e2e" >(ppm)</text>
<text x="362.0" y="25.6" font-size="5.8" text-anchor="middle" fill="#2e2e2e" color="#2e2e2e" >Cu</text>
<text x="362.0" y="32.0" font-size="5.8" text-anchor="middle" fill="#2e2e2e" color="#2e2e2e" >(ppm)</text>
<text x="390.25" y="25.6" font-size="5.8" text-anchor="middle" fill="#2e2e2e" color="#2e2e2e" >Mo</text>
<text x="390.25" y="32.0" font-size="5.8" text-anchor="middle" fill="#2e2e2e" color="#2e2e2e" >(ppm)</text>
<text x="418.5" y="25.6" font-size="5.8" text-anchor="middle" fill="#2e2e2e" color="#2e2e2e" >Corg/P</text>
<text x="418.5" y="32.0" font-size="5.8" text-anchor="middle" fill="#2e2e2e" color="#2e2e2e" >(molar)</text>
<text x="446.5" y="28.3" font-size="5.8" text-anchor="middle" fill="#2e2e2e" color="#2e2e2e" >Sr/Cu</text>
<text x="474.5" y="28.3" font-size="5.8" text-anchor="middle" fill="#2e2e2e" color="#2e2e2e" >Sr/Ba</text>
<text x="502.5" y="28.3" font-size="5.8" text-anchor="middle" fill="#2e2e2e" color="#2e2e2e" >Zr/Rb</text>
<text x="530.75" y="18.7" font-size="5.8" text-anchor="middle" fill="#2e2e2e" color="#2e2e2e" >TOC</text>
<text x="530.75" y="27.2" font-size="5.8" text-anchor="middle" fill="#2e2e2e" color="#2e2e2e" >(wt%)</text>
<text x="150.3" y="37.75" font-size="4.6" text-anchor="start" fill="#555" color="#555" >0</text>
<text x="174.5" y="37.75" font-size="4.6" text-anchor="end" fill="#555" color="#555" >100</text>
<line x1="154.4576" y1="36.2" x2="165.2272" y2="36.2" stroke="#e2dc96" stroke-width="0.9" />
<text x="178.3" y="37.75" font-size="4.6" text-anchor="start" fill="#555" color="#555" >0</text>
<text x="203.5" y="37.75" font-size="4.6" text-anchor="end" fill="#555" color="#555" >50</text>
<line x1="182.4576" y1="36.2" x2="196.78480000000002" y2="36.2" stroke="#5858c0" stroke-width="0.8" />
<text x="207.3" y="37.75" font-size="4.6" text-anchor="start" fill="#555" color="#555" >0</text>
<text x="231.5" y="37.75" font-size="4.6" text-anchor="end" fill="#555" color="#555" >100</text>
<line x1="211.4576" y1="36.2" x2="222.2272" y2="36.2" stroke="#8cc4a4" stroke-width="0.8" />
<text x="235.3" y="37.75" font-size="4.6" text-anchor="start" fill="#555" color="#555" >0</text>
<text x="261.5" y="37.75" font-size="4.6" text-anchor="end" fill="#555" color="#555" >50</text>
<line x1="239.4576" y1="36.2" x2="254.7848" y2="36.2" stroke="#9c78e0" stroke-width="0.8" />
<text x="265.3" y="37.75" font-size="4.6" text-anchor="start" fill="#555" color="#555" >2</text>
<text x="289.5" y="37.75" font-size="4.6" text-anchor="end" fill="#555" color="#555" >10</text>
<line x1="269.4576" y1="36.2" x2="282.78479999999996" y2="36.2" stroke="#4a4a4a" stroke-width="0.65" />
<text x="293.3" y="37.75" font-size="4.6" text-anchor="start" fill="#555" color="#555" >0</text>
<text x="317.5" y="37.75" font-size="4.6" text-anchor="end" fill="#555" color="#555" >40</text>
<line x1="297.4576" y1="36.2" x2="310.78479999999996" y2="36.2" stroke="#4a4a4a" stroke-width="0.65" />
<text x="321.3" y="37.75" font-size="4.6" text-anchor="start" fill="#555" color="#555" >0</text>
<text x="346.0" y="37.75" font-size="4.6" text-anchor="end" fill="#555" color="#555" >3000</text>
<line x1="325.4576" y1="36.2" x2="334.1696" y2="36.2" stroke="#4a4a4a" stroke-width="0.65" />
<text x="349.8" y="37.75" font-size="4.6" text-anchor="start" fill="#555" color="#555" >0</text>
<text x="374.0" y="37.75" font-size="4.6" text-anchor="end" fill="#555" color="#555" >80</text>
<line x1="353.9576" y1="36.2" x2="367.28479999999996" y2="36.2" stroke="#4a4a4a" stroke-width="0.65" />
<text x="377.8" y="37.75" font-size="4.6" text-anchor="start" fill="#555" color="#555" >0</text>
<text x="402.5" y="37.75" font-size="4.6" text-anchor="end" fill="#555" color="#555" >4</text>
<line x1="381.9576" y1="36.2" x2="398.3424" y2="36.2" stroke="#4a4a4a" stroke-width="0.65" />
<text x="406.3" y="37.75" font-size="4.6" text-anchor="start" fill="#555" color="#555" >0</text>
<text x="430.5" y="37.75" font-size="4.6" text-anchor="end" fill="#555" color="#555" >600</text>
<line x1="410.4576" y1="36.2" x2="421.2272" y2="36.2" stroke="#4a4a4a" stroke-width="0.65" />
<text x="434.3" y="37.75" font-size="4.6" text-anchor="start" fill="#555" color="#555" >0</text>
<text x="458.5" y="37.75" font-size="4.6" text-anchor="end" fill="#555" color="#555" >30</text>
<line x1="438.4576" y1="36.2" x2="451.78479999999996" y2="36.2" stroke="#4a4a4a" stroke-width="0.65" />
<text x="462.3" y="37.75" font-size="4.6" text-anchor="start" fill="#555" color="#555" >0</text>
<text x="486.5" y="37.75" font-size="4.6" text-anchor="end" fill="#555" color="#555" >0.8</text>
<line x1="466.4576" y1="36.2" x2="478.506" y2="36.2" stroke="#4a4a4a" stroke-width="0.65" />
<text x="490.3" y="37.75" font-size="4.6" text-anchor="start" fill="#555" color="#555" >0</text>
<text x="514.5" y="37.75" font-size="4.6" text-anchor="end" fill="#555" color="#555" >5</text>
<line x1="494.4576" y1="36.2" x2="510.3424" y2="36.2" stroke="#4a4a4a" stroke-width="0.65" />
<text x="518.3" y="37.75" font-size="4.6" text-anchor="start" fill="#555" color="#555" >0</text>
<text x="543.0" y="37.75" font-size="4.6" text-anchor="end" fill="#555" color="#555" >12</text>
<line x1="522.4576" y1="36.2" x2="536.2848" y2="36.2" stroke="#4a4a4a" stroke-width="0.65" />
<text transform="translate(9.22,158.80) rotate(90)" font-size="6" text-anchor="middle" fill="#2e2e2e" color="#2e2e2e">Liushagang Fm.</text>
<text transform="translate(23.52,159.30) rotate(90)" font-size="6" text-anchor="middle" fill="#2e2e2e" color="#2e2e2e">Second Member</text>
<text transform="translate(36.62,157.60) rotate(90)" font-size="6" text-anchor="middle" fill="#2e2e2e" color="#2e2e2e">L-LS2</text>
<rect x="15.1" y="290.6" width="21" height="10.6" fill="#aaa898" stroke="#55554a" stroke-width="0.8"/>
<line x1="17.7" y1="294" x2="22.7" y2="294" stroke="#707060" stroke-width="0.5" />
<line x1="24.7" y1="294" x2="32.7" y2="294" stroke="#707060" stroke-width="0.5" />
<line x1="19.7" y1="297.5" x2="26.7" y2="297.5" stroke="#707060" stroke-width="0.5" />
<line x1="28.7" y1="297.5" x2="33.7" y2="297.5" stroke="#707060" stroke-width="0.5" />
<text x="25.6" y="307.6" font-size="5.2" text-anchor="middle" fill="#333" color="#333" letter-spacing="0.3" style="stroke-width:0.04px">Mudstone</text>
<rect x="65.10000000000001" y="290.6" width="21" height="10.6" fill="#b8d8f2" stroke="#6aa0b4" stroke-width="0.8"/>
<text x="84.7" y="294.8" font-size="4.4" text-anchor="end" fill="#1c4c80">Ca</text>
<text x="66.7" y="299.8" font-size="4.4" fill="#1c4c80">Ca</text>
<line x1="66.7" y1="293.4" x2="79.2" y2="293.4" stroke="#6a8ab8" stroke-width="0.5" />
<line x1="72.7" y1="298.4" x2="84.7" y2="298.4" stroke="#6a8ab8" stroke-width="0.5" />
<text x="75.60000000000001" y="307.6" font-size="5.2" text-anchor="middle" fill="#333" color="#333" letter-spacing="0.3" style="stroke-width:0.04px">Calcareous</text>
<text x="75.60000000000001" y="313.3" font-size="5.2" text-anchor="middle" fill="#333" color="#333" letter-spacing="0.3" style="stroke-width:0.04px">mudstone</text>
<rect x="115.10000000000001" y="290.6" width="21" height="10.6" fill="#f8f6cc" stroke="#707052" stroke-width="0.8"/>
<line x1="117.7" y1="293.8" x2="121.2" y2="293.8" stroke="#8a8a5a" stroke-width="0.55" stroke-dasharray="0.8 0.6"/>
<line x1="123.7" y1="293.8" x2="127.2" y2="293.8" stroke="#8a8a5a" stroke-width="0.55" stroke-dasharray="0.8 0.6"/>
<line x1="129.7" y1="293.8" x2="133.2" y2="293.8" stroke="#8a8a5a" stroke-width="0.55" stroke-dasharray="0.8 0.6"/>
<line x1="117.7" y1="297.6" x2="121.2" y2="297.6" stroke="#8a8a5a" stroke-width="0.55" stroke-dasharray="0.8 0.6"/>
<line x1="123.7" y1="297.6" x2="127.2" y2="297.6" stroke="#8a8a5a" stroke-width="0.55" stroke-dasharray="0.8 0.6"/>
<line x1="129.7" y1="297.6" x2="133.2" y2="297.6" stroke="#8a8a5a" stroke-width="0.55" stroke-dasharray="0.8 0.6"/>
<text x="125.60000000000001" y="307.6" font-size="5.2" text-anchor="middle" fill="#333" color="#333" letter-spacing="0.3" style="stroke-width:0.04px">Arenaceous</text>
<text x="125.60000000000001" y="313.3" font-size="5.2" text-anchor="middle" fill="#333" color="#333" letter-spacing="0.3" style="stroke-width:0.04px">mudstone</text>
<rect x="165.1" y="290.6" width="21" height="10.6" fill="#f2f290" stroke="#7a7a4e" stroke-width="0.8"/>
<line x1="167.7" y1="293.8" x2="171.2" y2="293.8" stroke="#8a8a5a" stroke-width="0.55" stroke-dasharray="0.8 0.6"/>
<line x1="173.7" y1="293.8" x2="177.2" y2="293.8" stroke="#8a8a5a" stroke-width="0.55" stroke-dasharray="0.8 0.6"/>
<line x1="179.7" y1="293.8" x2="183.2" y2="293.8" stroke="#8a8a5a" stroke-width="0.55" stroke-dasharray="0.8 0.6"/>
<line x1="167.7" y1="297.6" x2="171.2" y2="297.6" stroke="#8a8a5a" stroke-width="0.55" stroke-dasharray="0.8 0.6"/>
<line x1="173.7" y1="297.6" x2="177.2" y2="297.6" stroke="#8a8a5a" stroke-width="0.55" stroke-dasharray="0.8 0.6"/>
<line x1="179.7" y1="297.6" x2="183.2" y2="297.6" stroke="#8a8a5a" stroke-width="0.55" stroke-dasharray="0.8 0.6"/>
<text x="175.6" y="307.6" font-size="5.2" text-anchor="middle" fill="#333" color="#333" letter-spacing="0.3" style="stroke-width:0.04px">Argillaceous</text>
<text x="175.6" y="313.3" font-size="5.2" text-anchor="middle" fill="#333" color="#333" letter-spacing="0.3" style="stroke-width:0.04px">siltstone</text>
<rect x="215.1" y="290.6" width="21" height="10.6" fill="#f0f020" stroke="#7e7e10" stroke-width="0.8"/>
<circle cx="218.7" cy="293.5" r="0.55" fill="#6a6a10"/>
<circle cx="222.9" cy="293.5" r="0.55" fill="#6a6a10"/>
<circle cx="227.1" cy="293.5" r="0.55" fill="#6a6a10"/>
<circle cx="231.3" cy="293.5" r="0.55" fill="#6a6a10"/>
<circle cx="220.7" cy="297.8" r="0.55" fill="#6a6a10"/>
<circle cx="224.9" cy="297.8" r="0.55" fill="#6a6a10"/>
<circle cx="229.1" cy="297.8" r="0.55" fill="#6a6a10"/>
<circle cx="233.3" cy="297.8" r="0.55" fill="#6a6a10"/>
<text x="225.6" y="307.6" font-size="5.2" text-anchor="middle" fill="#333" color="#333" letter-spacing="0.3" style="stroke-width:0.04px">Sandstone</text>
<rect x="265.09999999999997" y="290.6" width="21" height="10.6" fill="#f4dde4" stroke="#a08890" stroke-width="0.8"/>
<text x="275.59999999999997" y="307.6" font-size="5.2" text-anchor="middle" fill="#333" color="#333" letter-spacing="0.3" style="stroke-width:0.04px">Clay-rich</text>
<text x="275.59999999999997" y="313.3" font-size="5.2" text-anchor="middle" fill="#333" color="#333" letter-spacing="0.3" style="stroke-width:0.04px">mudstone</text>
<rect x="312.2" y="288.2" width="24.3" height="15.3" fill="#a4fafa" />
<rect x="315.09999999999997" y="290.6" width="21" height="10.6" fill="#38a4f8" stroke="#1e6a80" stroke-width="0.8"/>
<rect x="315.59999999999997" y="291.1" width="5.5" height="9.6" fill="#5a92f0" />
<text x="325.59999999999997" y="307.6" font-size="5.2" text-anchor="middle" fill="#333" color="#333" letter-spacing="0.3" style="stroke-width:0.04px">Calcium-bearing</text>
<text x="325.59999999999997" y="313.3" font-size="5.2" text-anchor="middle" fill="#333" color="#333" letter-spacing="0.3" style="stroke-width:0.04px">mudstone</text>
<rect x="365.09999999999997" y="290.6" width="21" height="10.6" fill="#a2d262" stroke="#5e7e3e" stroke-width="0.8"/>
<text x="375.59999999999997" y="307.6" font-size="5.2" text-anchor="middle" fill="#333" color="#333" letter-spacing="0.3" style="stroke-width:0.04px">Clay-rich</text>
<text x="375.59999999999997" y="313.3" font-size="5.2" text-anchor="middle" fill="#333" color="#333" letter-spacing="0.3" style="stroke-width:0.04px">siltstone</text>
<rect x="415.09999999999997" y="290.6" width="21" height="10.6" fill="#f0d264" stroke="#8e7e3e" stroke-width="0.8"/>
<text x="425.59999999999997" y="307.6" font-size="5.2" text-anchor="middle" fill="#333" color="#333" letter-spacing="0.3" style="stroke-width:0.04px">Siliceous</text>
<text x="425.59999999999997" y="313.3" font-size="5.2" text-anchor="middle" fill="#333" color="#333" letter-spacing="0.3" style="stroke-width:0.04px">siltstone</text>
<rect x="464.09999999999997" y="288.2" width="24" height="15.1" fill="#ffc4ff" />
<rect x="465.09999999999997" y="290.6" width="21" height="10.6" fill="#b010e8" stroke="#70108a" stroke-width="0.8"/>
<rect x="480.7" y="291.1" width="5" height="9.6" fill="#8848f0" />
<text x="475.59999999999997" y="307.6" font-size="5.2" text-anchor="middle" fill="#333" color="#333" letter-spacing="0.3" style="stroke-width:0.04px">Ankerite-bearing</text>
<text x="475.59999999999997" y="313.3" font-size="5.2" text-anchor="middle" fill="#333" color="#333" letter-spacing="0.3" style="stroke-width:0.04px">sandstone</text>
<rect x="515.1" y="290.6" width="21" height="10.6" fill="#f0f000" stroke="#8e8e10" stroke-width="0.8"/>
<text x="525.6" y="307.6" font-size="5.2" text-anchor="middle" fill="#333" color="#333" letter-spacing="0.3" style="stroke-width:0.04px">Siliceous</text>
<text x="525.6" y="313.3" font-size="5.2" text-anchor="middle" fill="#333" color="#333" letter-spacing="0.3" style="stroke-width:0.04px">sandstone</text></svg>
</body></html>
